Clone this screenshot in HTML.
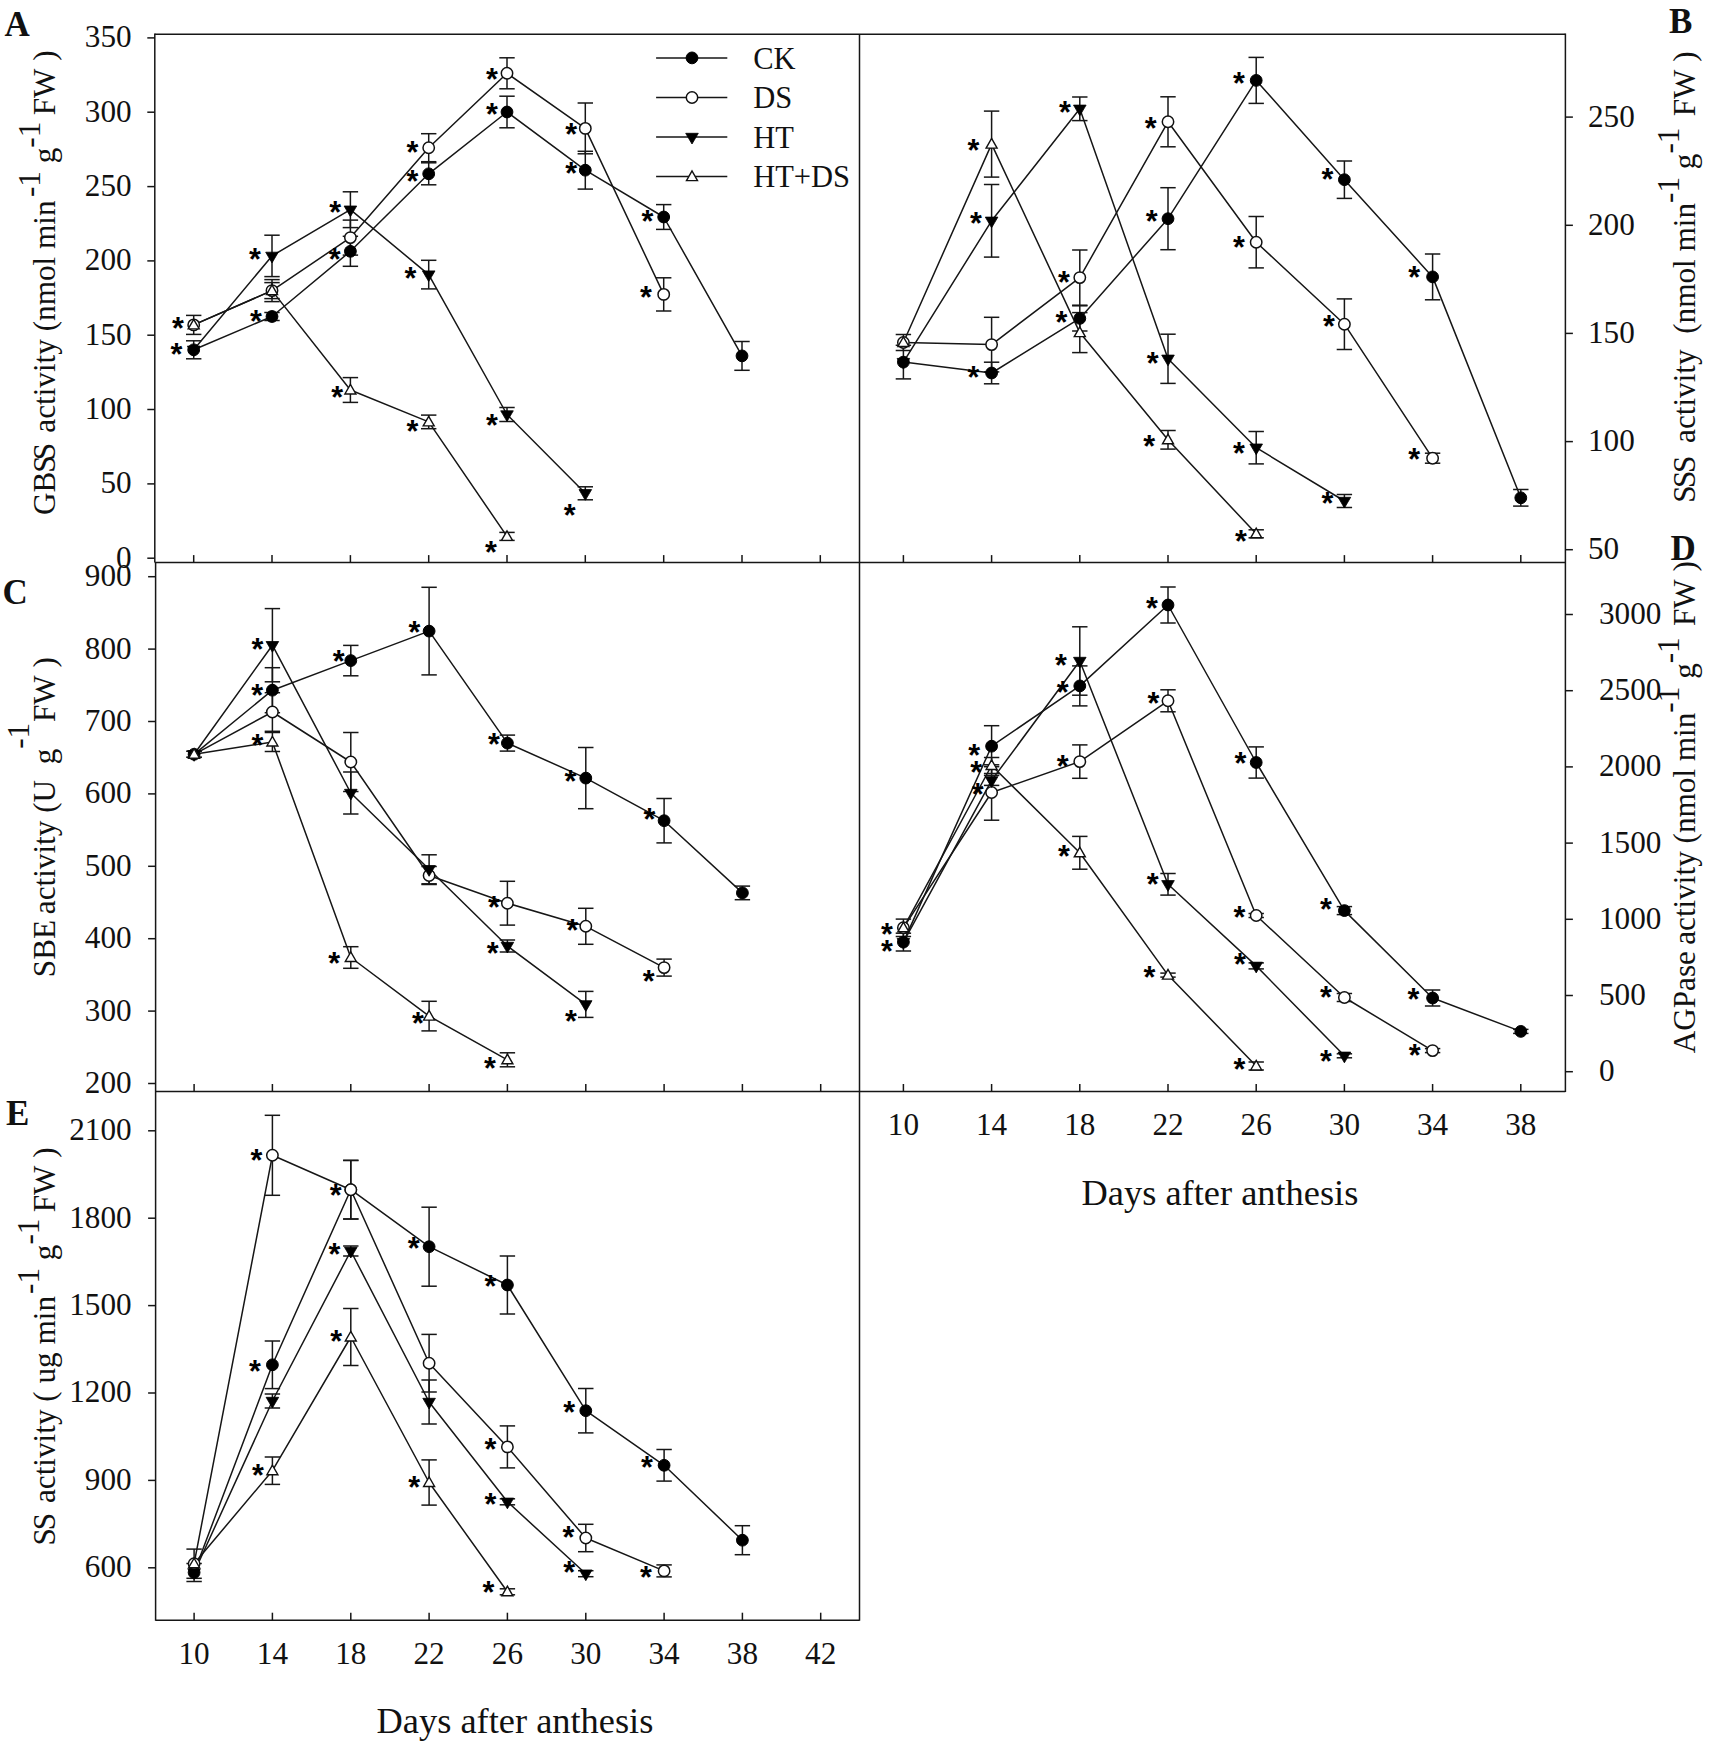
<!DOCTYPE html>
<html lang="en"><head><meta charset="utf-8"><title>Starch synthesis enzyme activities</title>
<style>html,body{margin:0;padding:0;background:#fff}svg{display:block}text{white-space:pre}</style></head>
<body>
<svg width="1713" height="1746" viewBox="0 0 1713 1746">
<rect width="1713" height="1746" fill="#fff"/>
<line x1="154.8" y1="34.2" x2="1565.4" y2="34.2" stroke="#161616" stroke-width="1.5"/>
<line x1="154.8" y1="562.6" x2="1565.4" y2="562.6" stroke="#161616" stroke-width="1.5"/>
<line x1="155.6" y1="1091.5" x2="1565.4" y2="1091.5" stroke="#161616" stroke-width="1.5"/>
<line x1="155.6" y1="1620.2" x2="859.5" y2="1620.2" stroke="#161616" stroke-width="1.5"/>
<line x1="154.8" y1="33.6" x2="154.8" y2="562.6" stroke="#161616" stroke-width="1.5"/>
<line x1="155.6" y1="562.6" x2="155.6" y2="1620.8" stroke="#161616" stroke-width="1.5"/>
<line x1="859.5" y1="34.2" x2="859.5" y2="1620.8" stroke="#161616" stroke-width="1.5"/>
<line x1="1565.4" y1="33.6" x2="1565.4" y2="1092.1" stroke="#161616" stroke-width="1.5"/>
<line x1="147.3" y1="558.2" x2="154.8" y2="558.2" stroke="#161616" stroke-width="1.5"/>
<text x="131.6" y="567.6" font-family="'Liberation Serif', 'Times New Roman', serif" font-size="31.2" font-weight="normal" text-anchor="end" fill="#111" >0</text>
<line x1="147.3" y1="483.9" x2="154.8" y2="483.9" stroke="#161616" stroke-width="1.5"/>
<text x="131.6" y="493.3" font-family="'Liberation Serif', 'Times New Roman', serif" font-size="31.2" font-weight="normal" text-anchor="end" fill="#111" >50</text>
<line x1="147.3" y1="409.5" x2="154.8" y2="409.5" stroke="#161616" stroke-width="1.5"/>
<text x="131.6" y="418.9" font-family="'Liberation Serif', 'Times New Roman', serif" font-size="31.2" font-weight="normal" text-anchor="end" fill="#111" >100</text>
<line x1="147.3" y1="335.2" x2="154.8" y2="335.2" stroke="#161616" stroke-width="1.5"/>
<text x="131.6" y="344.6" font-family="'Liberation Serif', 'Times New Roman', serif" font-size="31.2" font-weight="normal" text-anchor="end" fill="#111" >150</text>
<line x1="147.3" y1="260.9" x2="154.8" y2="260.9" stroke="#161616" stroke-width="1.5"/>
<text x="131.6" y="270.3" font-family="'Liberation Serif', 'Times New Roman', serif" font-size="31.2" font-weight="normal" text-anchor="end" fill="#111" >200</text>
<line x1="147.3" y1="186.6" x2="154.8" y2="186.6" stroke="#161616" stroke-width="1.5"/>
<text x="131.6" y="196.0" font-family="'Liberation Serif', 'Times New Roman', serif" font-size="31.2" font-weight="normal" text-anchor="end" fill="#111" >250</text>
<line x1="147.3" y1="112.2" x2="154.8" y2="112.2" stroke="#161616" stroke-width="1.5"/>
<text x="131.6" y="121.6" font-family="'Liberation Serif', 'Times New Roman', serif" font-size="31.2" font-weight="normal" text-anchor="end" fill="#111" >300</text>
<line x1="147.3" y1="37.9" x2="154.8" y2="37.9" stroke="#161616" stroke-width="1.5"/>
<text x="131.6" y="47.3" font-family="'Liberation Serif', 'Times New Roman', serif" font-size="31.2" font-weight="normal" text-anchor="end" fill="#111" >350</text>
<line x1="148.1" y1="1083.5" x2="155.6" y2="1083.5" stroke="#161616" stroke-width="1.5"/>
<text x="131.6" y="1092.9" font-family="'Liberation Serif', 'Times New Roman', serif" font-size="31.2" font-weight="normal" text-anchor="end" fill="#111" >200</text>
<line x1="148.1" y1="1011.1" x2="155.6" y2="1011.1" stroke="#161616" stroke-width="1.5"/>
<text x="131.6" y="1020.5" font-family="'Liberation Serif', 'Times New Roman', serif" font-size="31.2" font-weight="normal" text-anchor="end" fill="#111" >300</text>
<line x1="148.1" y1="938.7" x2="155.6" y2="938.7" stroke="#161616" stroke-width="1.5"/>
<text x="131.6" y="948.1" font-family="'Liberation Serif', 'Times New Roman', serif" font-size="31.2" font-weight="normal" text-anchor="end" fill="#111" >400</text>
<line x1="148.1" y1="866.3" x2="155.6" y2="866.3" stroke="#161616" stroke-width="1.5"/>
<text x="131.6" y="875.7" font-family="'Liberation Serif', 'Times New Roman', serif" font-size="31.2" font-weight="normal" text-anchor="end" fill="#111" >500</text>
<line x1="148.1" y1="793.9" x2="155.6" y2="793.9" stroke="#161616" stroke-width="1.5"/>
<text x="131.6" y="803.3" font-family="'Liberation Serif', 'Times New Roman', serif" font-size="31.2" font-weight="normal" text-anchor="end" fill="#111" >600</text>
<line x1="148.1" y1="721.5" x2="155.6" y2="721.5" stroke="#161616" stroke-width="1.5"/>
<text x="131.6" y="730.9" font-family="'Liberation Serif', 'Times New Roman', serif" font-size="31.2" font-weight="normal" text-anchor="end" fill="#111" >700</text>
<line x1="148.1" y1="649.1" x2="155.6" y2="649.1" stroke="#161616" stroke-width="1.5"/>
<text x="131.6" y="658.5" font-family="'Liberation Serif', 'Times New Roman', serif" font-size="31.2" font-weight="normal" text-anchor="end" fill="#111" >800</text>
<line x1="148.1" y1="576.7" x2="155.6" y2="576.7" stroke="#161616" stroke-width="1.5"/>
<text x="131.6" y="586.1" font-family="'Liberation Serif', 'Times New Roman', serif" font-size="31.2" font-weight="normal" text-anchor="end" fill="#111" >900</text>
<line x1="148.1" y1="1567.8" x2="155.6" y2="1567.8" stroke="#161616" stroke-width="1.5"/>
<text x="131.6" y="1577.2" font-family="'Liberation Serif', 'Times New Roman', serif" font-size="31.2" font-weight="normal" text-anchor="end" fill="#111" >600</text>
<line x1="148.1" y1="1480.4" x2="155.6" y2="1480.4" stroke="#161616" stroke-width="1.5"/>
<text x="131.6" y="1489.8" font-family="'Liberation Serif', 'Times New Roman', serif" font-size="31.2" font-weight="normal" text-anchor="end" fill="#111" >900</text>
<line x1="148.1" y1="1393.0" x2="155.6" y2="1393.0" stroke="#161616" stroke-width="1.5"/>
<text x="131.6" y="1402.4" font-family="'Liberation Serif', 'Times New Roman', serif" font-size="31.2" font-weight="normal" text-anchor="end" fill="#111" >1200</text>
<line x1="148.1" y1="1305.6" x2="155.6" y2="1305.6" stroke="#161616" stroke-width="1.5"/>
<text x="131.6" y="1315.0" font-family="'Liberation Serif', 'Times New Roman', serif" font-size="31.2" font-weight="normal" text-anchor="end" fill="#111" >1500</text>
<line x1="148.1" y1="1218.2" x2="155.6" y2="1218.2" stroke="#161616" stroke-width="1.5"/>
<text x="131.6" y="1227.6" font-family="'Liberation Serif', 'Times New Roman', serif" font-size="31.2" font-weight="normal" text-anchor="end" fill="#111" >1800</text>
<line x1="148.1" y1="1130.8" x2="155.6" y2="1130.8" stroke="#161616" stroke-width="1.5"/>
<text x="131.6" y="1140.2" font-family="'Liberation Serif', 'Times New Roman', serif" font-size="31.2" font-weight="normal" text-anchor="end" fill="#111" >2100</text>
<line x1="1565.4" y1="549.7" x2="1572.9" y2="549.7" stroke="#161616" stroke-width="1.5"/>
<text x="1588.0" y="559.1" font-family="'Liberation Serif', 'Times New Roman', serif" font-size="31.2" font-weight="normal" text-anchor="start" fill="#111" >50</text>
<line x1="1565.4" y1="441.6" x2="1572.9" y2="441.6" stroke="#161616" stroke-width="1.5"/>
<text x="1588.0" y="451.0" font-family="'Liberation Serif', 'Times New Roman', serif" font-size="31.2" font-weight="normal" text-anchor="start" fill="#111" >100</text>
<line x1="1565.4" y1="333.4" x2="1572.9" y2="333.4" stroke="#161616" stroke-width="1.5"/>
<text x="1588.0" y="342.8" font-family="'Liberation Serif', 'Times New Roman', serif" font-size="31.2" font-weight="normal" text-anchor="start" fill="#111" >150</text>
<line x1="1565.4" y1="225.3" x2="1572.9" y2="225.3" stroke="#161616" stroke-width="1.5"/>
<text x="1588.0" y="234.7" font-family="'Liberation Serif', 'Times New Roman', serif" font-size="31.2" font-weight="normal" text-anchor="start" fill="#111" >200</text>
<line x1="1565.4" y1="117.1" x2="1572.9" y2="117.1" stroke="#161616" stroke-width="1.5"/>
<text x="1588.0" y="126.5" font-family="'Liberation Serif', 'Times New Roman', serif" font-size="31.2" font-weight="normal" text-anchor="start" fill="#111" >250</text>
<line x1="1565.4" y1="1071.7" x2="1572.9" y2="1071.7" stroke="#161616" stroke-width="1.5"/>
<text x="1599.0" y="1081.1" font-family="'Liberation Serif', 'Times New Roman', serif" font-size="31.2" font-weight="normal" text-anchor="start" fill="#111" >0</text>
<line x1="1565.4" y1="995.5" x2="1572.9" y2="995.5" stroke="#161616" stroke-width="1.5"/>
<text x="1599.0" y="1004.9" font-family="'Liberation Serif', 'Times New Roman', serif" font-size="31.2" font-weight="normal" text-anchor="start" fill="#111" >500</text>
<line x1="1565.4" y1="919.3" x2="1572.9" y2="919.3" stroke="#161616" stroke-width="1.5"/>
<text x="1599.0" y="928.7" font-family="'Liberation Serif', 'Times New Roman', serif" font-size="31.2" font-weight="normal" text-anchor="start" fill="#111" >1000</text>
<line x1="1565.4" y1="843.1" x2="1572.9" y2="843.1" stroke="#161616" stroke-width="1.5"/>
<text x="1599.0" y="852.5" font-family="'Liberation Serif', 'Times New Roman', serif" font-size="31.2" font-weight="normal" text-anchor="start" fill="#111" >1500</text>
<line x1="1565.4" y1="766.9" x2="1572.9" y2="766.9" stroke="#161616" stroke-width="1.5"/>
<text x="1599.0" y="776.3" font-family="'Liberation Serif', 'Times New Roman', serif" font-size="31.2" font-weight="normal" text-anchor="start" fill="#111" >2000</text>
<line x1="1565.4" y1="690.7" x2="1572.9" y2="690.7" stroke="#161616" stroke-width="1.5"/>
<text x="1599.0" y="700.1" font-family="'Liberation Serif', 'Times New Roman', serif" font-size="31.2" font-weight="normal" text-anchor="start" fill="#111" >2500</text>
<line x1="1565.4" y1="614.5" x2="1572.9" y2="614.5" stroke="#161616" stroke-width="1.5"/>
<text x="1599.0" y="623.9" font-family="'Liberation Serif', 'Times New Roman', serif" font-size="31.2" font-weight="normal" text-anchor="start" fill="#111" >3000</text>
<line x1="193.7" y1="555.1" x2="193.7" y2="562.6" stroke="#161616" stroke-width="1.5"/>
<line x1="272.0" y1="555.1" x2="272.0" y2="562.6" stroke="#161616" stroke-width="1.5"/>
<line x1="350.4" y1="555.1" x2="350.4" y2="562.6" stroke="#161616" stroke-width="1.5"/>
<line x1="428.7" y1="555.1" x2="428.7" y2="562.6" stroke="#161616" stroke-width="1.5"/>
<line x1="507.0" y1="555.1" x2="507.0" y2="562.6" stroke="#161616" stroke-width="1.5"/>
<line x1="585.3" y1="555.1" x2="585.3" y2="562.6" stroke="#161616" stroke-width="1.5"/>
<line x1="663.7" y1="555.1" x2="663.7" y2="562.6" stroke="#161616" stroke-width="1.5"/>
<line x1="742.0" y1="555.1" x2="742.0" y2="562.6" stroke="#161616" stroke-width="1.5"/>
<line x1="820.3" y1="555.1" x2="820.3" y2="562.6" stroke="#161616" stroke-width="1.5"/>
<line x1="194.1" y1="1084.0" x2="194.1" y2="1091.5" stroke="#161616" stroke-width="1.5"/>
<line x1="272.4" y1="1084.0" x2="272.4" y2="1091.5" stroke="#161616" stroke-width="1.5"/>
<line x1="350.8" y1="1084.0" x2="350.8" y2="1091.5" stroke="#161616" stroke-width="1.5"/>
<line x1="429.1" y1="1084.0" x2="429.1" y2="1091.5" stroke="#161616" stroke-width="1.5"/>
<line x1="507.4" y1="1084.0" x2="507.4" y2="1091.5" stroke="#161616" stroke-width="1.5"/>
<line x1="585.8" y1="1084.0" x2="585.8" y2="1091.5" stroke="#161616" stroke-width="1.5"/>
<line x1="664.1" y1="1084.0" x2="664.1" y2="1091.5" stroke="#161616" stroke-width="1.5"/>
<line x1="742.4" y1="1084.0" x2="742.4" y2="1091.5" stroke="#161616" stroke-width="1.5"/>
<line x1="820.7" y1="1084.0" x2="820.7" y2="1091.5" stroke="#161616" stroke-width="1.5"/>
<line x1="194.1" y1="1612.7" x2="194.1" y2="1620.2" stroke="#161616" stroke-width="1.5"/>
<text x="194.1" y="1664.3" font-family="'Liberation Serif', 'Times New Roman', serif" font-size="31.2" font-weight="normal" text-anchor="middle" fill="#111" >10</text>
<line x1="272.4" y1="1612.7" x2="272.4" y2="1620.2" stroke="#161616" stroke-width="1.5"/>
<text x="272.4" y="1664.3" font-family="'Liberation Serif', 'Times New Roman', serif" font-size="31.2" font-weight="normal" text-anchor="middle" fill="#111" >14</text>
<line x1="350.8" y1="1612.7" x2="350.8" y2="1620.2" stroke="#161616" stroke-width="1.5"/>
<text x="350.8" y="1664.3" font-family="'Liberation Serif', 'Times New Roman', serif" font-size="31.2" font-weight="normal" text-anchor="middle" fill="#111" >18</text>
<line x1="429.1" y1="1612.7" x2="429.1" y2="1620.2" stroke="#161616" stroke-width="1.5"/>
<text x="429.1" y="1664.3" font-family="'Liberation Serif', 'Times New Roman', serif" font-size="31.2" font-weight="normal" text-anchor="middle" fill="#111" >22</text>
<line x1="507.4" y1="1612.7" x2="507.4" y2="1620.2" stroke="#161616" stroke-width="1.5"/>
<text x="507.4" y="1664.3" font-family="'Liberation Serif', 'Times New Roman', serif" font-size="31.2" font-weight="normal" text-anchor="middle" fill="#111" >26</text>
<line x1="585.8" y1="1612.7" x2="585.8" y2="1620.2" stroke="#161616" stroke-width="1.5"/>
<text x="585.8" y="1664.3" font-family="'Liberation Serif', 'Times New Roman', serif" font-size="31.2" font-weight="normal" text-anchor="middle" fill="#111" >30</text>
<line x1="664.1" y1="1612.7" x2="664.1" y2="1620.2" stroke="#161616" stroke-width="1.5"/>
<text x="664.1" y="1664.3" font-family="'Liberation Serif', 'Times New Roman', serif" font-size="31.2" font-weight="normal" text-anchor="middle" fill="#111" >34</text>
<line x1="742.4" y1="1612.7" x2="742.4" y2="1620.2" stroke="#161616" stroke-width="1.5"/>
<text x="742.4" y="1664.3" font-family="'Liberation Serif', 'Times New Roman', serif" font-size="31.2" font-weight="normal" text-anchor="middle" fill="#111" >38</text>
<line x1="820.7" y1="1612.7" x2="820.7" y2="1620.2" stroke="#161616" stroke-width="1.5"/>
<text x="820.7" y="1664.3" font-family="'Liberation Serif', 'Times New Roman', serif" font-size="31.2" font-weight="normal" text-anchor="middle" fill="#111" >42</text>
<line x1="903.4" y1="555.1" x2="903.4" y2="562.6" stroke="#161616" stroke-width="1.5"/>
<line x1="991.6" y1="555.1" x2="991.6" y2="562.6" stroke="#161616" stroke-width="1.5"/>
<line x1="1079.8" y1="555.1" x2="1079.8" y2="562.6" stroke="#161616" stroke-width="1.5"/>
<line x1="1168.0" y1="555.1" x2="1168.0" y2="562.6" stroke="#161616" stroke-width="1.5"/>
<line x1="1256.2" y1="555.1" x2="1256.2" y2="562.6" stroke="#161616" stroke-width="1.5"/>
<line x1="1344.4" y1="555.1" x2="1344.4" y2="562.6" stroke="#161616" stroke-width="1.5"/>
<line x1="1432.6" y1="555.1" x2="1432.6" y2="562.6" stroke="#161616" stroke-width="1.5"/>
<line x1="1520.8" y1="555.1" x2="1520.8" y2="562.6" stroke="#161616" stroke-width="1.5"/>
<line x1="903.4" y1="1084.0" x2="903.4" y2="1091.5" stroke="#161616" stroke-width="1.5"/>
<text x="903.4" y="1134.6" font-family="'Liberation Serif', 'Times New Roman', serif" font-size="31.2" font-weight="normal" text-anchor="middle" fill="#111" >10</text>
<line x1="991.6" y1="1084.0" x2="991.6" y2="1091.5" stroke="#161616" stroke-width="1.5"/>
<text x="991.6" y="1134.6" font-family="'Liberation Serif', 'Times New Roman', serif" font-size="31.2" font-weight="normal" text-anchor="middle" fill="#111" >14</text>
<line x1="1079.8" y1="1084.0" x2="1079.8" y2="1091.5" stroke="#161616" stroke-width="1.5"/>
<text x="1079.8" y="1134.6" font-family="'Liberation Serif', 'Times New Roman', serif" font-size="31.2" font-weight="normal" text-anchor="middle" fill="#111" >18</text>
<line x1="1168.0" y1="1084.0" x2="1168.0" y2="1091.5" stroke="#161616" stroke-width="1.5"/>
<text x="1168.0" y="1134.6" font-family="'Liberation Serif', 'Times New Roman', serif" font-size="31.2" font-weight="normal" text-anchor="middle" fill="#111" >22</text>
<line x1="1256.2" y1="1084.0" x2="1256.2" y2="1091.5" stroke="#161616" stroke-width="1.5"/>
<text x="1256.2" y="1134.6" font-family="'Liberation Serif', 'Times New Roman', serif" font-size="31.2" font-weight="normal" text-anchor="middle" fill="#111" >26</text>
<line x1="1344.4" y1="1084.0" x2="1344.4" y2="1091.5" stroke="#161616" stroke-width="1.5"/>
<text x="1344.4" y="1134.6" font-family="'Liberation Serif', 'Times New Roman', serif" font-size="31.2" font-weight="normal" text-anchor="middle" fill="#111" >30</text>
<line x1="1432.6" y1="1084.0" x2="1432.6" y2="1091.5" stroke="#161616" stroke-width="1.5"/>
<text x="1432.6" y="1134.6" font-family="'Liberation Serif', 'Times New Roman', serif" font-size="31.2" font-weight="normal" text-anchor="middle" fill="#111" >34</text>
<line x1="1520.8" y1="1084.0" x2="1520.8" y2="1091.5" stroke="#161616" stroke-width="1.5"/>
<text x="1520.8" y="1134.6" font-family="'Liberation Serif', 'Times New Roman', serif" font-size="31.2" font-weight="normal" text-anchor="middle" fill="#111" >38</text>
<text x="4.5" y="35.5" font-family="'Liberation Serif', 'Times New Roman', serif" font-size="35" font-weight="bold" text-anchor="start" fill="#111" >A</text>
<text x="1669.0" y="33.3" font-family="'Liberation Serif', 'Times New Roman', serif" font-size="35" font-weight="bold" text-anchor="start" fill="#111" >B</text>
<text x="2.5" y="604.3" font-family="'Liberation Serif', 'Times New Roman', serif" font-size="35" font-weight="bold" text-anchor="start" fill="#111" >C</text>
<text x="1670.5" y="559.5" font-family="'Liberation Serif', 'Times New Roman', serif" font-size="35" font-weight="bold" text-anchor="start" fill="#111" >D</text>
<text x="6.0" y="1125.0" font-family="'Liberation Serif', 'Times New Roman', serif" font-size="35" font-weight="bold" text-anchor="start" fill="#111" >E</text>
<text x="376.5" y="1733.0" font-family="'Liberation Serif', 'Times New Roman', serif" font-size="36.4" font-weight="normal" text-anchor="start" fill="#111" >Days after anthesis</text>
<text x="1081.5" y="1204.5" font-family="'Liberation Serif', 'Times New Roman', serif" font-size="36.4" font-weight="normal" text-anchor="start" fill="#111" >Days after anthesis</text>
<text transform="translate(54.6 515.0) rotate(-90)" font-family="'Liberation Serif', 'Times New Roman', serif" font-size="31.2" fill="#111" xml:space="preserve"><tspan dx="0" dy="0.0">GB</tspan><tspan dx="-1" dy="0.0">S</tspan><tspan dx="-5" dy="0.0">S</tspan><tspan dx="2.5" dy="0.0">&#160;activity&#160;(nmol&#160;min</tspan><tspan dx="3.5" dy="-15.0">-1</tspan><tspan dx="0" dy="15.0">&#160;g</tspan><tspan dx="0" dy="-15.0">-1</tspan><tspan dx="-1.5" dy="15.0">&#160;FW&#160;)</tspan></text>
<text transform="translate(54.8 977.2) rotate(-90)" font-family="'Liberation Serif', 'Times New Roman', serif" font-size="31.2" fill="#111" xml:space="preserve"><tspan dx="0" dy="0.0">SBE</tspan><tspan dx="-2" dy="0.0">&#160;activity&#160;(U&#160;&#160;g</tspan><tspan dx="0" dy="-25.5">-1</tspan><tspan dx="-7" dy="25.5">&#160;FW&#160;)</tspan></text>
<text transform="translate(55.0 1545.5) rotate(-90)" font-family="'Liberation Serif', 'Times New Roman', serif" font-size="31.2" fill="#111" xml:space="preserve"><tspan dx="0" dy="0.0">S</tspan><tspan dx="-2" dy="0.0">S</tspan><tspan dx="2" dy="0.0">&#160;activity&#160;(&#160;ug&#160;min</tspan><tspan dx="2" dy="-16.0">-1</tspan><tspan dx="0" dy="16.0">&#160;g</tspan><tspan dx="0" dy="-16.0">-1</tspan><tspan dx="-1.5" dy="16.0">&#160;FW&#160;)</tspan></text>
<text transform="translate(1694.6 502.8) rotate(-90)" font-family="'Liberation Serif', 'Times New Roman', serif" font-size="31.2" fill="#111" xml:space="preserve"><tspan dx="0" dy="0.0">S</tspan><tspan dx="-2.5" dy="0.0">S</tspan><tspan dx="-2.5" dy="0.0">S</tspan><tspan dx="5" dy="0.0">&#160;activity&#160;&#160;(nmol&#160;min</tspan><tspan dx="0" dy="-16.0">-1</tspan><tspan dx="0" dy="16.0">&#160;g</tspan><tspan dx="0" dy="-16.0">-1</tspan><tspan dx="3.5" dy="16.0">&#160;FW&#160;)</tspan></text>
<text transform="translate(1695.4 1053.3) rotate(-90)" font-family="'Liberation Serif', 'Times New Roman', serif" font-size="31.2" fill="#111" xml:space="preserve"><tspan dx="0" dy="0.0">AGPase</tspan><tspan dx="-1.5" dy="0.0">&#160;activity&#160;(nmol&#160;min</tspan><tspan dx="0" dy="-16.0">-1</tspan><tspan dx="0" dy="16.0">&#160;g</tspan><tspan dx="0" dy="-16.0">-1</tspan><tspan dx="3.5" dy="16.0">&#160;FW&#160;)</tspan></text>
<line x1="656.1" y1="57.9" x2="727.3" y2="57.9" stroke="#161616" stroke-width="1.5"/>
<circle cx="692.0" cy="57.9" r="5.9" fill="#000" stroke="#000" stroke-width="1"/>
<text x="753.2" y="68.7" font-family="'Liberation Serif', 'Times New Roman', serif" font-size="30.5" font-weight="normal" text-anchor="start" fill="#111" >CK</text>
<line x1="656.1" y1="97.5" x2="727.3" y2="97.5" stroke="#161616" stroke-width="1.5"/>
<circle cx="692.0" cy="97.5" r="5.7" fill="#fff" stroke="#111" stroke-width="1.5"/>
<text x="753.2" y="108.3" font-family="'Liberation Serif', 'Times New Roman', serif" font-size="30.5" font-weight="normal" text-anchor="start" fill="#111" >DS</text>
<line x1="656.1" y1="137.0" x2="727.3" y2="137.0" stroke="#161616" stroke-width="1.5"/>
<path d="M685.7 133.3L698.3 133.3L692.0 144.0Z" fill="#000" stroke="#000" stroke-width="0.8"/>
<text x="753.2" y="147.8" font-family="'Liberation Serif', 'Times New Roman', serif" font-size="30.5" font-weight="normal" text-anchor="start" fill="#111" >HT</text>
<line x1="656.1" y1="176.6" x2="727.3" y2="176.6" stroke="#161616" stroke-width="1.5"/>
<path d="M686.5 180.6L697.5 180.6L692.0 171.0Z" fill="#fff" stroke="#111" stroke-width="1.4"/>
<text x="753.2" y="187.4" font-family="'Liberation Serif', 'Times New Roman', serif" font-size="30.5" font-weight="normal" text-anchor="start" fill="#111" >HT+DS</text>
<path d="M193.7 349.8 L272.0 316.5 L350.4 251.3 L428.7 173.8 L507.0 112.0 L585.3 170.2 L663.7 217.0 L742.0 355.9" fill="none" stroke="#161616" stroke-width="1.5" stroke-linejoin="round"/>
<path d="M193.7 324.9 L272.0 290.6 L350.4 237.6 L428.7 147.7 L507.0 73.3 L585.3 128.4 L663.7 294.4" fill="none" stroke="#161616" stroke-width="1.5" stroke-linejoin="round"/>
<path d="M193.7 349.8 L272.0 255.9 L350.4 209.7 L428.7 274.6 L507.0 414.5 L585.3 493.3" fill="none" stroke="#161616" stroke-width="1.5" stroke-linejoin="round"/>
<path d="M193.7 324.9 L272.0 290.6 L350.4 390.0 L428.7 421.9 L507.0 536.4" fill="none" stroke="#161616" stroke-width="1.5" stroke-linejoin="round"/>
<path d="M903.4 362.1 L991.6 373.0 L1079.8 318.4 L1168.0 218.7 L1256.2 80.4 L1344.4 179.7 L1432.6 276.9 L1520.8 497.8" fill="none" stroke="#161616" stroke-width="1.5" stroke-linejoin="round"/>
<path d="M903.4 342.5 L991.6 344.6 L1079.8 277.6 L1168.0 121.8 L1256.2 242.2 L1344.4 324.2 L1432.6 458.2" fill="none" stroke="#161616" stroke-width="1.5" stroke-linejoin="round"/>
<path d="M903.4 362.1 L991.6 220.8 L1079.8 108.8 L1168.0 358.8 L1256.2 447.7 L1344.4 501.0" fill="none" stroke="#161616" stroke-width="1.5" stroke-linejoin="round"/>
<path d="M903.4 342.5 L991.6 144.1 L1079.8 332.6 L1168.0 439.8 L1256.2 533.8" fill="none" stroke="#161616" stroke-width="1.5" stroke-linejoin="round"/>
<path d="M194.1 754.3 L272.4 690.2 L350.8 660.6 L429.1 631.1 L507.4 743.1 L585.8 778.1 L664.1 820.7 L742.4 892.9" fill="none" stroke="#161616" stroke-width="1.5" stroke-linejoin="round"/>
<path d="M194.1 754.3 L272.4 712.0 L350.8 762.0 L429.1 875.5 L507.4 903.2 L585.8 926.3 L664.1 967.6" fill="none" stroke="#161616" stroke-width="1.5" stroke-linejoin="round"/>
<path d="M194.1 754.3 L272.4 645.2 L350.8 793.0 L429.1 869.3 L507.4 946.0 L585.8 1004.4" fill="none" stroke="#161616" stroke-width="1.5" stroke-linejoin="round"/>
<path d="M194.1 754.3 L272.4 742.0 L350.8 957.5 L429.1 1016.1 L507.4 1059.8" fill="none" stroke="#161616" stroke-width="1.5" stroke-linejoin="round"/>
<path d="M903.4 942.1 L991.6 746.2 L1079.8 685.9 L1168.0 605.0 L1256.2 762.5 L1344.4 910.6 L1432.6 998.0 L1520.8 1031.4" fill="none" stroke="#161616" stroke-width="1.5" stroke-linejoin="round"/>
<path d="M903.4 927.8 L991.6 792.5 L1079.8 761.6 L1168.0 700.8 L1256.2 915.5 L1344.4 997.5 L1432.6 1050.6" fill="none" stroke="#161616" stroke-width="1.5" stroke-linejoin="round"/>
<path d="M903.4 942.1 L991.6 780.4 L1079.8 661.0 L1168.0 884.3 L1256.2 965.9 L1344.4 1055.8" fill="none" stroke="#161616" stroke-width="1.5" stroke-linejoin="round"/>
<path d="M903.4 927.8 L991.6 765.5 L1079.8 852.8 L1168.0 975.1 L1256.2 1066.0" fill="none" stroke="#161616" stroke-width="1.5" stroke-linejoin="round"/>
<path d="M194.1 1572.5 L272.4 1364.8 L350.8 1189.7 L429.1 1246.7 L507.4 1285.0 L585.8 1410.7 L664.1 1465.3 L742.4 1540.2" fill="none" stroke="#161616" stroke-width="1.5" stroke-linejoin="round"/>
<path d="M194.1 1563.7 L272.4 1155.3 L350.8 1189.7 L429.1 1363.2 L507.4 1446.9 L585.8 1538.0 L664.1 1570.9" fill="none" stroke="#161616" stroke-width="1.5" stroke-linejoin="round"/>
<path d="M194.1 1572.5 L272.4 1401.0 L350.8 1251.0 L429.1 1402.0 L507.4 1501.8 L585.8 1573.7" fill="none" stroke="#161616" stroke-width="1.5" stroke-linejoin="round"/>
<path d="M194.1 1563.7 L272.4 1470.7 L350.8 1337.0 L429.1 1482.5 L507.4 1591.8" fill="none" stroke="#161616" stroke-width="1.5" stroke-linejoin="round"/>
<line x1="193.7" y1="340.8" x2="193.7" y2="358.8" stroke="#161616" stroke-width="1.5"/>
<line x1="186.0" y1="340.8" x2="201.4" y2="340.8" stroke="#161616" stroke-width="1.5"/>
<line x1="186.0" y1="358.8" x2="201.4" y2="358.8" stroke="#161616" stroke-width="1.5"/>
<line x1="272.0" y1="312.5" x2="272.0" y2="320.5" stroke="#161616" stroke-width="1.5"/>
<line x1="264.3" y1="312.5" x2="279.7" y2="312.5" stroke="#161616" stroke-width="1.5"/>
<line x1="264.3" y1="320.5" x2="279.7" y2="320.5" stroke="#161616" stroke-width="1.5"/>
<line x1="350.4" y1="236.3" x2="350.4" y2="266.3" stroke="#161616" stroke-width="1.5"/>
<line x1="342.7" y1="236.3" x2="358.1" y2="236.3" stroke="#161616" stroke-width="1.5"/>
<line x1="342.7" y1="266.3" x2="358.1" y2="266.3" stroke="#161616" stroke-width="1.5"/>
<line x1="428.7" y1="162.8" x2="428.7" y2="184.8" stroke="#161616" stroke-width="1.5"/>
<line x1="421.0" y1="162.8" x2="436.4" y2="162.8" stroke="#161616" stroke-width="1.5"/>
<line x1="421.0" y1="184.8" x2="436.4" y2="184.8" stroke="#161616" stroke-width="1.5"/>
<line x1="507.0" y1="96.2" x2="507.0" y2="127.8" stroke="#161616" stroke-width="1.5"/>
<line x1="499.3" y1="96.2" x2="514.7" y2="96.2" stroke="#161616" stroke-width="1.5"/>
<line x1="499.3" y1="127.8" x2="514.7" y2="127.8" stroke="#161616" stroke-width="1.5"/>
<line x1="585.3" y1="151.3" x2="585.3" y2="189.1" stroke="#161616" stroke-width="1.5"/>
<line x1="577.6" y1="151.3" x2="593.0" y2="151.3" stroke="#161616" stroke-width="1.5"/>
<line x1="577.6" y1="189.1" x2="593.0" y2="189.1" stroke="#161616" stroke-width="1.5"/>
<line x1="663.7" y1="204.6" x2="663.7" y2="229.4" stroke="#161616" stroke-width="1.5"/>
<line x1="656.0" y1="204.6" x2="671.4" y2="204.6" stroke="#161616" stroke-width="1.5"/>
<line x1="656.0" y1="229.4" x2="671.4" y2="229.4" stroke="#161616" stroke-width="1.5"/>
<line x1="742.0" y1="341.5" x2="742.0" y2="370.3" stroke="#161616" stroke-width="1.5"/>
<line x1="734.3" y1="341.5" x2="749.7" y2="341.5" stroke="#161616" stroke-width="1.5"/>
<line x1="734.3" y1="370.3" x2="749.7" y2="370.3" stroke="#161616" stroke-width="1.5"/>
<line x1="193.7" y1="315.4" x2="193.7" y2="334.4" stroke="#161616" stroke-width="1.5"/>
<line x1="186.0" y1="315.4" x2="201.4" y2="315.4" stroke="#161616" stroke-width="1.5"/>
<line x1="186.0" y1="334.4" x2="201.4" y2="334.4" stroke="#161616" stroke-width="1.5"/>
<line x1="272.0" y1="279.6" x2="272.0" y2="301.6" stroke="#161616" stroke-width="1.5"/>
<line x1="264.3" y1="279.6" x2="279.7" y2="279.6" stroke="#161616" stroke-width="1.5"/>
<line x1="264.3" y1="301.6" x2="279.7" y2="301.6" stroke="#161616" stroke-width="1.5"/>
<line x1="350.4" y1="220.1" x2="350.4" y2="255.1" stroke="#161616" stroke-width="1.5"/>
<line x1="342.7" y1="220.1" x2="358.1" y2="220.1" stroke="#161616" stroke-width="1.5"/>
<line x1="342.7" y1="255.1" x2="358.1" y2="255.1" stroke="#161616" stroke-width="1.5"/>
<line x1="428.7" y1="133.7" x2="428.7" y2="161.7" stroke="#161616" stroke-width="1.5"/>
<line x1="421.0" y1="133.7" x2="436.4" y2="133.7" stroke="#161616" stroke-width="1.5"/>
<line x1="421.0" y1="161.7" x2="436.4" y2="161.7" stroke="#161616" stroke-width="1.5"/>
<line x1="507.0" y1="57.8" x2="507.0" y2="88.8" stroke="#161616" stroke-width="1.5"/>
<line x1="499.3" y1="57.8" x2="514.7" y2="57.8" stroke="#161616" stroke-width="1.5"/>
<line x1="499.3" y1="88.8" x2="514.7" y2="88.8" stroke="#161616" stroke-width="1.5"/>
<line x1="585.3" y1="103.0" x2="585.3" y2="153.8" stroke="#161616" stroke-width="1.5"/>
<line x1="577.6" y1="103.0" x2="593.0" y2="103.0" stroke="#161616" stroke-width="1.5"/>
<line x1="577.6" y1="153.8" x2="593.0" y2="153.8" stroke="#161616" stroke-width="1.5"/>
<line x1="663.7" y1="277.8" x2="663.7" y2="311.0" stroke="#161616" stroke-width="1.5"/>
<line x1="656.0" y1="277.8" x2="671.4" y2="277.8" stroke="#161616" stroke-width="1.5"/>
<line x1="656.0" y1="311.0" x2="671.4" y2="311.0" stroke="#161616" stroke-width="1.5"/>
<line x1="272.0" y1="235.2" x2="272.0" y2="276.6" stroke="#161616" stroke-width="1.5"/>
<line x1="264.3" y1="235.2" x2="279.7" y2="235.2" stroke="#161616" stroke-width="1.5"/>
<line x1="264.3" y1="276.6" x2="279.7" y2="276.6" stroke="#161616" stroke-width="1.5"/>
<line x1="350.4" y1="191.8" x2="350.4" y2="227.6" stroke="#161616" stroke-width="1.5"/>
<line x1="342.7" y1="191.8" x2="358.1" y2="191.8" stroke="#161616" stroke-width="1.5"/>
<line x1="342.7" y1="227.6" x2="358.1" y2="227.6" stroke="#161616" stroke-width="1.5"/>
<line x1="428.7" y1="260.3" x2="428.7" y2="288.9" stroke="#161616" stroke-width="1.5"/>
<line x1="421.0" y1="260.3" x2="436.4" y2="260.3" stroke="#161616" stroke-width="1.5"/>
<line x1="421.0" y1="288.9" x2="436.4" y2="288.9" stroke="#161616" stroke-width="1.5"/>
<line x1="507.0" y1="407.5" x2="507.0" y2="421.5" stroke="#161616" stroke-width="1.5"/>
<line x1="499.3" y1="407.5" x2="514.7" y2="407.5" stroke="#161616" stroke-width="1.5"/>
<line x1="499.3" y1="421.5" x2="514.7" y2="421.5" stroke="#161616" stroke-width="1.5"/>
<line x1="585.3" y1="486.8" x2="585.3" y2="499.8" stroke="#161616" stroke-width="1.5"/>
<line x1="577.6" y1="486.8" x2="593.0" y2="486.8" stroke="#161616" stroke-width="1.5"/>
<line x1="577.6" y1="499.8" x2="593.0" y2="499.8" stroke="#161616" stroke-width="1.5"/>
<line x1="272.0" y1="282.6" x2="272.0" y2="298.6" stroke="#161616" stroke-width="1.5"/>
<line x1="264.3" y1="282.6" x2="279.7" y2="282.6" stroke="#161616" stroke-width="1.5"/>
<line x1="264.3" y1="298.6" x2="279.7" y2="298.6" stroke="#161616" stroke-width="1.5"/>
<line x1="350.4" y1="377.6" x2="350.4" y2="402.4" stroke="#161616" stroke-width="1.5"/>
<line x1="342.7" y1="377.6" x2="358.1" y2="377.6" stroke="#161616" stroke-width="1.5"/>
<line x1="342.7" y1="402.4" x2="358.1" y2="402.4" stroke="#161616" stroke-width="1.5"/>
<line x1="428.7" y1="415.1" x2="428.7" y2="428.7" stroke="#161616" stroke-width="1.5"/>
<line x1="421.0" y1="415.1" x2="436.4" y2="415.1" stroke="#161616" stroke-width="1.5"/>
<line x1="421.0" y1="428.7" x2="436.4" y2="428.7" stroke="#161616" stroke-width="1.5"/>
<line x1="507.0" y1="532.4" x2="507.0" y2="540.4" stroke="#161616" stroke-width="1.5"/>
<line x1="499.3" y1="532.4" x2="514.7" y2="532.4" stroke="#161616" stroke-width="1.5"/>
<line x1="499.3" y1="540.4" x2="514.7" y2="540.4" stroke="#161616" stroke-width="1.5"/>
<line x1="903.4" y1="345.3" x2="903.4" y2="378.9" stroke="#161616" stroke-width="1.5"/>
<line x1="895.7" y1="345.3" x2="911.1" y2="345.3" stroke="#161616" stroke-width="1.5"/>
<line x1="895.7" y1="378.9" x2="911.1" y2="378.9" stroke="#161616" stroke-width="1.5"/>
<line x1="991.6" y1="362.2" x2="991.6" y2="383.8" stroke="#161616" stroke-width="1.5"/>
<line x1="983.9" y1="362.2" x2="999.3" y2="362.2" stroke="#161616" stroke-width="1.5"/>
<line x1="983.9" y1="383.8" x2="999.3" y2="383.8" stroke="#161616" stroke-width="1.5"/>
<line x1="1079.8" y1="305.8" x2="1079.8" y2="331.0" stroke="#161616" stroke-width="1.5"/>
<line x1="1072.1" y1="305.8" x2="1087.5" y2="305.8" stroke="#161616" stroke-width="1.5"/>
<line x1="1072.1" y1="331.0" x2="1087.5" y2="331.0" stroke="#161616" stroke-width="1.5"/>
<line x1="1168.0" y1="187.7" x2="1168.0" y2="249.7" stroke="#161616" stroke-width="1.5"/>
<line x1="1160.3" y1="187.7" x2="1175.7" y2="187.7" stroke="#161616" stroke-width="1.5"/>
<line x1="1160.3" y1="249.7" x2="1175.7" y2="249.7" stroke="#161616" stroke-width="1.5"/>
<line x1="1256.2" y1="57.4" x2="1256.2" y2="103.4" stroke="#161616" stroke-width="1.5"/>
<line x1="1248.5" y1="57.4" x2="1263.9" y2="57.4" stroke="#161616" stroke-width="1.5"/>
<line x1="1248.5" y1="103.4" x2="1263.9" y2="103.4" stroke="#161616" stroke-width="1.5"/>
<line x1="1344.4" y1="161.0" x2="1344.4" y2="198.4" stroke="#161616" stroke-width="1.5"/>
<line x1="1336.7" y1="161.0" x2="1352.1" y2="161.0" stroke="#161616" stroke-width="1.5"/>
<line x1="1336.7" y1="198.4" x2="1352.1" y2="198.4" stroke="#161616" stroke-width="1.5"/>
<line x1="1432.6" y1="254.0" x2="1432.6" y2="299.8" stroke="#161616" stroke-width="1.5"/>
<line x1="1424.9" y1="254.0" x2="1440.3" y2="254.0" stroke="#161616" stroke-width="1.5"/>
<line x1="1424.9" y1="299.8" x2="1440.3" y2="299.8" stroke="#161616" stroke-width="1.5"/>
<line x1="1520.8" y1="489.5" x2="1520.8" y2="506.1" stroke="#161616" stroke-width="1.5"/>
<line x1="1513.1" y1="489.5" x2="1528.5" y2="489.5" stroke="#161616" stroke-width="1.5"/>
<line x1="1513.1" y1="506.1" x2="1528.5" y2="506.1" stroke="#161616" stroke-width="1.5"/>
<line x1="903.4" y1="334.5" x2="903.4" y2="350.5" stroke="#161616" stroke-width="1.5"/>
<line x1="895.7" y1="334.5" x2="911.1" y2="334.5" stroke="#161616" stroke-width="1.5"/>
<line x1="895.7" y1="350.5" x2="911.1" y2="350.5" stroke="#161616" stroke-width="1.5"/>
<line x1="991.6" y1="317.3" x2="991.6" y2="371.9" stroke="#161616" stroke-width="1.5"/>
<line x1="983.9" y1="317.3" x2="999.3" y2="317.3" stroke="#161616" stroke-width="1.5"/>
<line x1="983.9" y1="371.9" x2="999.3" y2="371.9" stroke="#161616" stroke-width="1.5"/>
<line x1="1079.8" y1="250.0" x2="1079.8" y2="305.2" stroke="#161616" stroke-width="1.5"/>
<line x1="1072.1" y1="250.0" x2="1087.5" y2="250.0" stroke="#161616" stroke-width="1.5"/>
<line x1="1072.1" y1="305.2" x2="1087.5" y2="305.2" stroke="#161616" stroke-width="1.5"/>
<line x1="1168.0" y1="96.8" x2="1168.0" y2="146.8" stroke="#161616" stroke-width="1.5"/>
<line x1="1160.3" y1="96.8" x2="1175.7" y2="96.8" stroke="#161616" stroke-width="1.5"/>
<line x1="1160.3" y1="146.8" x2="1175.7" y2="146.8" stroke="#161616" stroke-width="1.5"/>
<line x1="1256.2" y1="216.5" x2="1256.2" y2="267.9" stroke="#161616" stroke-width="1.5"/>
<line x1="1248.5" y1="216.5" x2="1263.9" y2="216.5" stroke="#161616" stroke-width="1.5"/>
<line x1="1248.5" y1="267.9" x2="1263.9" y2="267.9" stroke="#161616" stroke-width="1.5"/>
<line x1="1344.4" y1="298.9" x2="1344.4" y2="349.5" stroke="#161616" stroke-width="1.5"/>
<line x1="1336.7" y1="298.9" x2="1352.1" y2="298.9" stroke="#161616" stroke-width="1.5"/>
<line x1="1336.7" y1="349.5" x2="1352.1" y2="349.5" stroke="#161616" stroke-width="1.5"/>
<line x1="1432.6" y1="453.2" x2="1432.6" y2="463.2" stroke="#161616" stroke-width="1.5"/>
<line x1="1424.9" y1="453.2" x2="1440.3" y2="453.2" stroke="#161616" stroke-width="1.5"/>
<line x1="1424.9" y1="463.2" x2="1440.3" y2="463.2" stroke="#161616" stroke-width="1.5"/>
<line x1="991.6" y1="184.5" x2="991.6" y2="257.1" stroke="#161616" stroke-width="1.5"/>
<line x1="983.9" y1="184.5" x2="999.3" y2="184.5" stroke="#161616" stroke-width="1.5"/>
<line x1="983.9" y1="257.1" x2="999.3" y2="257.1" stroke="#161616" stroke-width="1.5"/>
<line x1="1079.8" y1="97.0" x2="1079.8" y2="120.6" stroke="#161616" stroke-width="1.5"/>
<line x1="1072.1" y1="97.0" x2="1087.5" y2="97.0" stroke="#161616" stroke-width="1.5"/>
<line x1="1072.1" y1="120.6" x2="1087.5" y2="120.6" stroke="#161616" stroke-width="1.5"/>
<line x1="1168.0" y1="334.2" x2="1168.0" y2="383.4" stroke="#161616" stroke-width="1.5"/>
<line x1="1160.3" y1="334.2" x2="1175.7" y2="334.2" stroke="#161616" stroke-width="1.5"/>
<line x1="1160.3" y1="383.4" x2="1175.7" y2="383.4" stroke="#161616" stroke-width="1.5"/>
<line x1="1256.2" y1="431.5" x2="1256.2" y2="463.9" stroke="#161616" stroke-width="1.5"/>
<line x1="1248.5" y1="431.5" x2="1263.9" y2="431.5" stroke="#161616" stroke-width="1.5"/>
<line x1="1248.5" y1="463.9" x2="1263.9" y2="463.9" stroke="#161616" stroke-width="1.5"/>
<line x1="1344.4" y1="494.5" x2="1344.4" y2="507.5" stroke="#161616" stroke-width="1.5"/>
<line x1="1336.7" y1="494.5" x2="1352.1" y2="494.5" stroke="#161616" stroke-width="1.5"/>
<line x1="1336.7" y1="507.5" x2="1352.1" y2="507.5" stroke="#161616" stroke-width="1.5"/>
<line x1="991.6" y1="111.1" x2="991.6" y2="177.1" stroke="#161616" stroke-width="1.5"/>
<line x1="983.9" y1="111.1" x2="999.3" y2="111.1" stroke="#161616" stroke-width="1.5"/>
<line x1="983.9" y1="177.1" x2="999.3" y2="177.1" stroke="#161616" stroke-width="1.5"/>
<line x1="1079.8" y1="312.6" x2="1079.8" y2="352.6" stroke="#161616" stroke-width="1.5"/>
<line x1="1072.1" y1="312.6" x2="1087.5" y2="312.6" stroke="#161616" stroke-width="1.5"/>
<line x1="1072.1" y1="352.6" x2="1087.5" y2="352.6" stroke="#161616" stroke-width="1.5"/>
<line x1="1168.0" y1="430.5" x2="1168.0" y2="449.1" stroke="#161616" stroke-width="1.5"/>
<line x1="1160.3" y1="430.5" x2="1175.7" y2="430.5" stroke="#161616" stroke-width="1.5"/>
<line x1="1160.3" y1="449.1" x2="1175.7" y2="449.1" stroke="#161616" stroke-width="1.5"/>
<line x1="1256.2" y1="529.8" x2="1256.2" y2="537.8" stroke="#161616" stroke-width="1.5"/>
<line x1="1248.5" y1="529.8" x2="1263.9" y2="529.8" stroke="#161616" stroke-width="1.5"/>
<line x1="1248.5" y1="537.8" x2="1263.9" y2="537.8" stroke="#161616" stroke-width="1.5"/>
<line x1="194.1" y1="751.3" x2="194.1" y2="757.3" stroke="#161616" stroke-width="1.5"/>
<line x1="186.4" y1="751.3" x2="201.8" y2="751.3" stroke="#161616" stroke-width="1.5"/>
<line x1="186.4" y1="757.3" x2="201.8" y2="757.3" stroke="#161616" stroke-width="1.5"/>
<line x1="272.4" y1="667.7" x2="272.4" y2="712.7" stroke="#161616" stroke-width="1.5"/>
<line x1="264.7" y1="667.7" x2="280.1" y2="667.7" stroke="#161616" stroke-width="1.5"/>
<line x1="264.7" y1="712.7" x2="280.1" y2="712.7" stroke="#161616" stroke-width="1.5"/>
<line x1="350.8" y1="645.4" x2="350.8" y2="675.8" stroke="#161616" stroke-width="1.5"/>
<line x1="343.1" y1="645.4" x2="358.5" y2="645.4" stroke="#161616" stroke-width="1.5"/>
<line x1="343.1" y1="675.8" x2="358.5" y2="675.8" stroke="#161616" stroke-width="1.5"/>
<line x1="429.1" y1="587.3" x2="429.1" y2="674.9" stroke="#161616" stroke-width="1.5"/>
<line x1="421.4" y1="587.3" x2="436.8" y2="587.3" stroke="#161616" stroke-width="1.5"/>
<line x1="421.4" y1="674.9" x2="436.8" y2="674.9" stroke="#161616" stroke-width="1.5"/>
<line x1="507.4" y1="735.1" x2="507.4" y2="751.1" stroke="#161616" stroke-width="1.5"/>
<line x1="499.7" y1="735.1" x2="515.1" y2="735.1" stroke="#161616" stroke-width="1.5"/>
<line x1="499.7" y1="751.1" x2="515.1" y2="751.1" stroke="#161616" stroke-width="1.5"/>
<line x1="585.8" y1="747.5" x2="585.8" y2="808.7" stroke="#161616" stroke-width="1.5"/>
<line x1="578.0" y1="747.5" x2="593.5" y2="747.5" stroke="#161616" stroke-width="1.5"/>
<line x1="578.0" y1="808.7" x2="593.5" y2="808.7" stroke="#161616" stroke-width="1.5"/>
<line x1="664.1" y1="798.5" x2="664.1" y2="842.9" stroke="#161616" stroke-width="1.5"/>
<line x1="656.4" y1="798.5" x2="671.8" y2="798.5" stroke="#161616" stroke-width="1.5"/>
<line x1="656.4" y1="842.9" x2="671.8" y2="842.9" stroke="#161616" stroke-width="1.5"/>
<line x1="742.4" y1="886.1" x2="742.4" y2="899.7" stroke="#161616" stroke-width="1.5"/>
<line x1="734.7" y1="886.1" x2="750.1" y2="886.1" stroke="#161616" stroke-width="1.5"/>
<line x1="734.7" y1="899.7" x2="750.1" y2="899.7" stroke="#161616" stroke-width="1.5"/>
<line x1="194.1" y1="751.3" x2="194.1" y2="757.3" stroke="#161616" stroke-width="1.5"/>
<line x1="186.4" y1="751.3" x2="201.8" y2="751.3" stroke="#161616" stroke-width="1.5"/>
<line x1="186.4" y1="757.3" x2="201.8" y2="757.3" stroke="#161616" stroke-width="1.5"/>
<line x1="272.4" y1="692.7" x2="272.4" y2="731.3" stroke="#161616" stroke-width="1.5"/>
<line x1="264.7" y1="692.7" x2="280.1" y2="692.7" stroke="#161616" stroke-width="1.5"/>
<line x1="264.7" y1="731.3" x2="280.1" y2="731.3" stroke="#161616" stroke-width="1.5"/>
<line x1="350.8" y1="732.5" x2="350.8" y2="791.5" stroke="#161616" stroke-width="1.5"/>
<line x1="343.1" y1="732.5" x2="358.5" y2="732.5" stroke="#161616" stroke-width="1.5"/>
<line x1="343.1" y1="791.5" x2="358.5" y2="791.5" stroke="#161616" stroke-width="1.5"/>
<line x1="429.1" y1="866.5" x2="429.1" y2="884.5" stroke="#161616" stroke-width="1.5"/>
<line x1="421.4" y1="866.5" x2="436.8" y2="866.5" stroke="#161616" stroke-width="1.5"/>
<line x1="421.4" y1="884.5" x2="436.8" y2="884.5" stroke="#161616" stroke-width="1.5"/>
<line x1="507.4" y1="881.3" x2="507.4" y2="925.1" stroke="#161616" stroke-width="1.5"/>
<line x1="499.7" y1="881.3" x2="515.1" y2="881.3" stroke="#161616" stroke-width="1.5"/>
<line x1="499.7" y1="925.1" x2="515.1" y2="925.1" stroke="#161616" stroke-width="1.5"/>
<line x1="585.8" y1="908.3" x2="585.8" y2="944.3" stroke="#161616" stroke-width="1.5"/>
<line x1="578.0" y1="908.3" x2="593.5" y2="908.3" stroke="#161616" stroke-width="1.5"/>
<line x1="578.0" y1="944.3" x2="593.5" y2="944.3" stroke="#161616" stroke-width="1.5"/>
<line x1="664.1" y1="959.1" x2="664.1" y2="976.1" stroke="#161616" stroke-width="1.5"/>
<line x1="656.4" y1="959.1" x2="671.8" y2="959.1" stroke="#161616" stroke-width="1.5"/>
<line x1="656.4" y1="976.1" x2="671.8" y2="976.1" stroke="#161616" stroke-width="1.5"/>
<line x1="272.4" y1="608.6" x2="272.4" y2="681.8" stroke="#161616" stroke-width="1.5"/>
<line x1="264.7" y1="608.6" x2="280.1" y2="608.6" stroke="#161616" stroke-width="1.5"/>
<line x1="264.7" y1="681.8" x2="280.1" y2="681.8" stroke="#161616" stroke-width="1.5"/>
<line x1="350.8" y1="772.0" x2="350.8" y2="814.0" stroke="#161616" stroke-width="1.5"/>
<line x1="343.1" y1="772.0" x2="358.5" y2="772.0" stroke="#161616" stroke-width="1.5"/>
<line x1="343.1" y1="814.0" x2="358.5" y2="814.0" stroke="#161616" stroke-width="1.5"/>
<line x1="429.1" y1="854.8" x2="429.1" y2="883.8" stroke="#161616" stroke-width="1.5"/>
<line x1="421.4" y1="854.8" x2="436.8" y2="854.8" stroke="#161616" stroke-width="1.5"/>
<line x1="421.4" y1="883.8" x2="436.8" y2="883.8" stroke="#161616" stroke-width="1.5"/>
<line x1="507.4" y1="940.0" x2="507.4" y2="952.0" stroke="#161616" stroke-width="1.5"/>
<line x1="499.7" y1="940.0" x2="515.1" y2="940.0" stroke="#161616" stroke-width="1.5"/>
<line x1="499.7" y1="952.0" x2="515.1" y2="952.0" stroke="#161616" stroke-width="1.5"/>
<line x1="585.8" y1="991.4" x2="585.8" y2="1017.4" stroke="#161616" stroke-width="1.5"/>
<line x1="578.0" y1="991.4" x2="593.5" y2="991.4" stroke="#161616" stroke-width="1.5"/>
<line x1="578.0" y1="1017.4" x2="593.5" y2="1017.4" stroke="#161616" stroke-width="1.5"/>
<line x1="272.4" y1="732.5" x2="272.4" y2="751.5" stroke="#161616" stroke-width="1.5"/>
<line x1="264.7" y1="732.5" x2="280.1" y2="732.5" stroke="#161616" stroke-width="1.5"/>
<line x1="264.7" y1="751.5" x2="280.1" y2="751.5" stroke="#161616" stroke-width="1.5"/>
<line x1="350.8" y1="946.7" x2="350.8" y2="968.3" stroke="#161616" stroke-width="1.5"/>
<line x1="343.1" y1="946.7" x2="358.5" y2="946.7" stroke="#161616" stroke-width="1.5"/>
<line x1="343.1" y1="968.3" x2="358.5" y2="968.3" stroke="#161616" stroke-width="1.5"/>
<line x1="429.1" y1="1001.3" x2="429.1" y2="1030.9" stroke="#161616" stroke-width="1.5"/>
<line x1="421.4" y1="1001.3" x2="436.8" y2="1001.3" stroke="#161616" stroke-width="1.5"/>
<line x1="421.4" y1="1030.9" x2="436.8" y2="1030.9" stroke="#161616" stroke-width="1.5"/>
<line x1="507.4" y1="1052.8" x2="507.4" y2="1066.8" stroke="#161616" stroke-width="1.5"/>
<line x1="499.7" y1="1052.8" x2="515.1" y2="1052.8" stroke="#161616" stroke-width="1.5"/>
<line x1="499.7" y1="1066.8" x2="515.1" y2="1066.8" stroke="#161616" stroke-width="1.5"/>
<line x1="903.4" y1="933.2" x2="903.4" y2="951.0" stroke="#161616" stroke-width="1.5"/>
<line x1="895.7" y1="933.2" x2="911.1" y2="933.2" stroke="#161616" stroke-width="1.5"/>
<line x1="895.7" y1="951.0" x2="911.1" y2="951.0" stroke="#161616" stroke-width="1.5"/>
<line x1="991.6" y1="725.7" x2="991.6" y2="766.7" stroke="#161616" stroke-width="1.5"/>
<line x1="983.9" y1="725.7" x2="999.3" y2="725.7" stroke="#161616" stroke-width="1.5"/>
<line x1="983.9" y1="766.7" x2="999.3" y2="766.7" stroke="#161616" stroke-width="1.5"/>
<line x1="1079.8" y1="665.9" x2="1079.8" y2="705.9" stroke="#161616" stroke-width="1.5"/>
<line x1="1072.1" y1="665.9" x2="1087.5" y2="665.9" stroke="#161616" stroke-width="1.5"/>
<line x1="1072.1" y1="705.9" x2="1087.5" y2="705.9" stroke="#161616" stroke-width="1.5"/>
<line x1="1168.0" y1="587.0" x2="1168.0" y2="623.0" stroke="#161616" stroke-width="1.5"/>
<line x1="1160.3" y1="587.0" x2="1175.7" y2="587.0" stroke="#161616" stroke-width="1.5"/>
<line x1="1160.3" y1="623.0" x2="1175.7" y2="623.0" stroke="#161616" stroke-width="1.5"/>
<line x1="1256.2" y1="746.9" x2="1256.2" y2="778.1" stroke="#161616" stroke-width="1.5"/>
<line x1="1248.5" y1="746.9" x2="1263.9" y2="746.9" stroke="#161616" stroke-width="1.5"/>
<line x1="1248.5" y1="778.1" x2="1263.9" y2="778.1" stroke="#161616" stroke-width="1.5"/>
<line x1="1344.4" y1="906.6" x2="1344.4" y2="914.6" stroke="#161616" stroke-width="1.5"/>
<line x1="1336.7" y1="906.6" x2="1352.1" y2="906.6" stroke="#161616" stroke-width="1.5"/>
<line x1="1336.7" y1="914.6" x2="1352.1" y2="914.6" stroke="#161616" stroke-width="1.5"/>
<line x1="1432.6" y1="990.0" x2="1432.6" y2="1006.0" stroke="#161616" stroke-width="1.5"/>
<line x1="1424.9" y1="990.0" x2="1440.3" y2="990.0" stroke="#161616" stroke-width="1.5"/>
<line x1="1424.9" y1="1006.0" x2="1440.3" y2="1006.0" stroke="#161616" stroke-width="1.5"/>
<line x1="1520.8" y1="1029.4" x2="1520.8" y2="1033.4" stroke="#161616" stroke-width="1.5"/>
<line x1="1513.1" y1="1029.4" x2="1528.5" y2="1029.4" stroke="#161616" stroke-width="1.5"/>
<line x1="1513.1" y1="1033.4" x2="1528.5" y2="1033.4" stroke="#161616" stroke-width="1.5"/>
<line x1="903.4" y1="919.1" x2="903.4" y2="936.5" stroke="#161616" stroke-width="1.5"/>
<line x1="895.7" y1="919.1" x2="911.1" y2="919.1" stroke="#161616" stroke-width="1.5"/>
<line x1="895.7" y1="936.5" x2="911.1" y2="936.5" stroke="#161616" stroke-width="1.5"/>
<line x1="991.6" y1="764.8" x2="991.6" y2="820.2" stroke="#161616" stroke-width="1.5"/>
<line x1="983.9" y1="764.8" x2="999.3" y2="764.8" stroke="#161616" stroke-width="1.5"/>
<line x1="983.9" y1="820.2" x2="999.3" y2="820.2" stroke="#161616" stroke-width="1.5"/>
<line x1="1079.8" y1="744.9" x2="1079.8" y2="778.3" stroke="#161616" stroke-width="1.5"/>
<line x1="1072.1" y1="744.9" x2="1087.5" y2="744.9" stroke="#161616" stroke-width="1.5"/>
<line x1="1072.1" y1="778.3" x2="1087.5" y2="778.3" stroke="#161616" stroke-width="1.5"/>
<line x1="1168.0" y1="689.8" x2="1168.0" y2="711.8" stroke="#161616" stroke-width="1.5"/>
<line x1="1160.3" y1="689.8" x2="1175.7" y2="689.8" stroke="#161616" stroke-width="1.5"/>
<line x1="1160.3" y1="711.8" x2="1175.7" y2="711.8" stroke="#161616" stroke-width="1.5"/>
<line x1="1256.2" y1="913.5" x2="1256.2" y2="917.5" stroke="#161616" stroke-width="1.5"/>
<line x1="1248.5" y1="913.5" x2="1263.9" y2="913.5" stroke="#161616" stroke-width="1.5"/>
<line x1="1248.5" y1="917.5" x2="1263.9" y2="917.5" stroke="#161616" stroke-width="1.5"/>
<line x1="1344.4" y1="993.5" x2="1344.4" y2="1001.5" stroke="#161616" stroke-width="1.5"/>
<line x1="1336.7" y1="993.5" x2="1352.1" y2="993.5" stroke="#161616" stroke-width="1.5"/>
<line x1="1336.7" y1="1001.5" x2="1352.1" y2="1001.5" stroke="#161616" stroke-width="1.5"/>
<line x1="1432.6" y1="1048.6" x2="1432.6" y2="1052.6" stroke="#161616" stroke-width="1.5"/>
<line x1="1424.9" y1="1048.6" x2="1440.3" y2="1048.6" stroke="#161616" stroke-width="1.5"/>
<line x1="1424.9" y1="1052.6" x2="1440.3" y2="1052.6" stroke="#161616" stroke-width="1.5"/>
<line x1="991.6" y1="775.4" x2="991.6" y2="785.4" stroke="#161616" stroke-width="1.5"/>
<line x1="983.9" y1="775.4" x2="999.3" y2="775.4" stroke="#161616" stroke-width="1.5"/>
<line x1="983.9" y1="785.4" x2="999.3" y2="785.4" stroke="#161616" stroke-width="1.5"/>
<line x1="1079.8" y1="626.8" x2="1079.8" y2="695.2" stroke="#161616" stroke-width="1.5"/>
<line x1="1072.1" y1="626.8" x2="1087.5" y2="626.8" stroke="#161616" stroke-width="1.5"/>
<line x1="1072.1" y1="695.2" x2="1087.5" y2="695.2" stroke="#161616" stroke-width="1.5"/>
<line x1="1168.0" y1="873.5" x2="1168.0" y2="895.1" stroke="#161616" stroke-width="1.5"/>
<line x1="1160.3" y1="873.5" x2="1175.7" y2="873.5" stroke="#161616" stroke-width="1.5"/>
<line x1="1160.3" y1="895.1" x2="1175.7" y2="895.1" stroke="#161616" stroke-width="1.5"/>
<line x1="1256.2" y1="962.9" x2="1256.2" y2="968.9" stroke="#161616" stroke-width="1.5"/>
<line x1="1248.5" y1="962.9" x2="1263.9" y2="962.9" stroke="#161616" stroke-width="1.5"/>
<line x1="1248.5" y1="968.9" x2="1263.9" y2="968.9" stroke="#161616" stroke-width="1.5"/>
<line x1="1344.4" y1="1053.8" x2="1344.4" y2="1057.8" stroke="#161616" stroke-width="1.5"/>
<line x1="1336.7" y1="1053.8" x2="1352.1" y2="1053.8" stroke="#161616" stroke-width="1.5"/>
<line x1="1336.7" y1="1057.8" x2="1352.1" y2="1057.8" stroke="#161616" stroke-width="1.5"/>
<line x1="991.6" y1="757.5" x2="991.6" y2="773.5" stroke="#161616" stroke-width="1.5"/>
<line x1="983.9" y1="757.5" x2="999.3" y2="757.5" stroke="#161616" stroke-width="1.5"/>
<line x1="983.9" y1="773.5" x2="999.3" y2="773.5" stroke="#161616" stroke-width="1.5"/>
<line x1="1079.8" y1="836.4" x2="1079.8" y2="869.2" stroke="#161616" stroke-width="1.5"/>
<line x1="1072.1" y1="836.4" x2="1087.5" y2="836.4" stroke="#161616" stroke-width="1.5"/>
<line x1="1072.1" y1="869.2" x2="1087.5" y2="869.2" stroke="#161616" stroke-width="1.5"/>
<line x1="1168.0" y1="973.1" x2="1168.0" y2="977.1" stroke="#161616" stroke-width="1.5"/>
<line x1="1160.3" y1="973.1" x2="1175.7" y2="973.1" stroke="#161616" stroke-width="1.5"/>
<line x1="1160.3" y1="977.1" x2="1175.7" y2="977.1" stroke="#161616" stroke-width="1.5"/>
<line x1="1256.2" y1="1062.0" x2="1256.2" y2="1070.0" stroke="#161616" stroke-width="1.5"/>
<line x1="1248.5" y1="1062.0" x2="1263.9" y2="1062.0" stroke="#161616" stroke-width="1.5"/>
<line x1="1248.5" y1="1070.0" x2="1263.9" y2="1070.0" stroke="#161616" stroke-width="1.5"/>
<line x1="194.1" y1="1563.5" x2="194.1" y2="1581.5" stroke="#161616" stroke-width="1.5"/>
<line x1="186.4" y1="1563.5" x2="201.8" y2="1563.5" stroke="#161616" stroke-width="1.5"/>
<line x1="186.4" y1="1581.5" x2="201.8" y2="1581.5" stroke="#161616" stroke-width="1.5"/>
<line x1="272.4" y1="1341.0" x2="272.4" y2="1388.6" stroke="#161616" stroke-width="1.5"/>
<line x1="264.7" y1="1341.0" x2="280.1" y2="1341.0" stroke="#161616" stroke-width="1.5"/>
<line x1="264.7" y1="1388.6" x2="280.1" y2="1388.6" stroke="#161616" stroke-width="1.5"/>
<line x1="350.8" y1="1160.4" x2="350.8" y2="1219.0" stroke="#161616" stroke-width="1.5"/>
<line x1="343.1" y1="1160.4" x2="358.5" y2="1160.4" stroke="#161616" stroke-width="1.5"/>
<line x1="343.1" y1="1219.0" x2="358.5" y2="1219.0" stroke="#161616" stroke-width="1.5"/>
<line x1="429.1" y1="1207.2" x2="429.1" y2="1286.2" stroke="#161616" stroke-width="1.5"/>
<line x1="421.4" y1="1207.2" x2="436.8" y2="1207.2" stroke="#161616" stroke-width="1.5"/>
<line x1="421.4" y1="1286.2" x2="436.8" y2="1286.2" stroke="#161616" stroke-width="1.5"/>
<line x1="507.4" y1="1256.0" x2="507.4" y2="1314.0" stroke="#161616" stroke-width="1.5"/>
<line x1="499.7" y1="1256.0" x2="515.1" y2="1256.0" stroke="#161616" stroke-width="1.5"/>
<line x1="499.7" y1="1314.0" x2="515.1" y2="1314.0" stroke="#161616" stroke-width="1.5"/>
<line x1="585.8" y1="1388.5" x2="585.8" y2="1432.9" stroke="#161616" stroke-width="1.5"/>
<line x1="578.0" y1="1388.5" x2="593.5" y2="1388.5" stroke="#161616" stroke-width="1.5"/>
<line x1="578.0" y1="1432.9" x2="593.5" y2="1432.9" stroke="#161616" stroke-width="1.5"/>
<line x1="664.1" y1="1449.5" x2="664.1" y2="1481.1" stroke="#161616" stroke-width="1.5"/>
<line x1="656.4" y1="1449.5" x2="671.8" y2="1449.5" stroke="#161616" stroke-width="1.5"/>
<line x1="656.4" y1="1481.1" x2="671.8" y2="1481.1" stroke="#161616" stroke-width="1.5"/>
<line x1="742.4" y1="1525.7" x2="742.4" y2="1554.7" stroke="#161616" stroke-width="1.5"/>
<line x1="734.7" y1="1525.7" x2="750.1" y2="1525.7" stroke="#161616" stroke-width="1.5"/>
<line x1="734.7" y1="1554.7" x2="750.1" y2="1554.7" stroke="#161616" stroke-width="1.5"/>
<line x1="194.1" y1="1549.1" x2="194.1" y2="1578.3" stroke="#161616" stroke-width="1.5"/>
<line x1="186.4" y1="1549.1" x2="201.8" y2="1549.1" stroke="#161616" stroke-width="1.5"/>
<line x1="186.4" y1="1578.3" x2="201.8" y2="1578.3" stroke="#161616" stroke-width="1.5"/>
<line x1="272.4" y1="1115.3" x2="272.4" y2="1195.3" stroke="#161616" stroke-width="1.5"/>
<line x1="264.7" y1="1115.3" x2="280.1" y2="1115.3" stroke="#161616" stroke-width="1.5"/>
<line x1="264.7" y1="1195.3" x2="280.1" y2="1195.3" stroke="#161616" stroke-width="1.5"/>
<line x1="350.8" y1="1160.4" x2="350.8" y2="1219.0" stroke="#161616" stroke-width="1.5"/>
<line x1="343.1" y1="1160.4" x2="358.5" y2="1160.4" stroke="#161616" stroke-width="1.5"/>
<line x1="343.1" y1="1219.0" x2="358.5" y2="1219.0" stroke="#161616" stroke-width="1.5"/>
<line x1="429.1" y1="1334.4" x2="429.1" y2="1392.0" stroke="#161616" stroke-width="1.5"/>
<line x1="421.4" y1="1334.4" x2="436.8" y2="1334.4" stroke="#161616" stroke-width="1.5"/>
<line x1="421.4" y1="1392.0" x2="436.8" y2="1392.0" stroke="#161616" stroke-width="1.5"/>
<line x1="507.4" y1="1425.9" x2="507.4" y2="1467.9" stroke="#161616" stroke-width="1.5"/>
<line x1="499.7" y1="1425.9" x2="515.1" y2="1425.9" stroke="#161616" stroke-width="1.5"/>
<line x1="499.7" y1="1467.9" x2="515.1" y2="1467.9" stroke="#161616" stroke-width="1.5"/>
<line x1="585.8" y1="1524.3" x2="585.8" y2="1551.7" stroke="#161616" stroke-width="1.5"/>
<line x1="578.0" y1="1524.3" x2="593.5" y2="1524.3" stroke="#161616" stroke-width="1.5"/>
<line x1="578.0" y1="1551.7" x2="593.5" y2="1551.7" stroke="#161616" stroke-width="1.5"/>
<line x1="664.1" y1="1564.9" x2="664.1" y2="1576.9" stroke="#161616" stroke-width="1.5"/>
<line x1="656.4" y1="1564.9" x2="671.8" y2="1564.9" stroke="#161616" stroke-width="1.5"/>
<line x1="656.4" y1="1576.9" x2="671.8" y2="1576.9" stroke="#161616" stroke-width="1.5"/>
<line x1="272.4" y1="1394.0" x2="272.4" y2="1408.0" stroke="#161616" stroke-width="1.5"/>
<line x1="264.7" y1="1394.0" x2="280.1" y2="1394.0" stroke="#161616" stroke-width="1.5"/>
<line x1="264.7" y1="1408.0" x2="280.1" y2="1408.0" stroke="#161616" stroke-width="1.5"/>
<line x1="350.8" y1="1246.0" x2="350.8" y2="1256.0" stroke="#161616" stroke-width="1.5"/>
<line x1="343.1" y1="1246.0" x2="358.5" y2="1246.0" stroke="#161616" stroke-width="1.5"/>
<line x1="343.1" y1="1256.0" x2="358.5" y2="1256.0" stroke="#161616" stroke-width="1.5"/>
<line x1="429.1" y1="1380.0" x2="429.1" y2="1424.0" stroke="#161616" stroke-width="1.5"/>
<line x1="421.4" y1="1380.0" x2="436.8" y2="1380.0" stroke="#161616" stroke-width="1.5"/>
<line x1="421.4" y1="1424.0" x2="436.8" y2="1424.0" stroke="#161616" stroke-width="1.5"/>
<line x1="507.4" y1="1498.8" x2="507.4" y2="1504.8" stroke="#161616" stroke-width="1.5"/>
<line x1="499.7" y1="1498.8" x2="515.1" y2="1498.8" stroke="#161616" stroke-width="1.5"/>
<line x1="499.7" y1="1504.8" x2="515.1" y2="1504.8" stroke="#161616" stroke-width="1.5"/>
<line x1="585.8" y1="1570.7" x2="585.8" y2="1576.7" stroke="#161616" stroke-width="1.5"/>
<line x1="578.0" y1="1570.7" x2="593.5" y2="1570.7" stroke="#161616" stroke-width="1.5"/>
<line x1="578.0" y1="1576.7" x2="593.5" y2="1576.7" stroke="#161616" stroke-width="1.5"/>
<line x1="272.4" y1="1457.0" x2="272.4" y2="1484.4" stroke="#161616" stroke-width="1.5"/>
<line x1="264.7" y1="1457.0" x2="280.1" y2="1457.0" stroke="#161616" stroke-width="1.5"/>
<line x1="264.7" y1="1484.4" x2="280.1" y2="1484.4" stroke="#161616" stroke-width="1.5"/>
<line x1="350.8" y1="1308.5" x2="350.8" y2="1365.5" stroke="#161616" stroke-width="1.5"/>
<line x1="343.1" y1="1308.5" x2="358.5" y2="1308.5" stroke="#161616" stroke-width="1.5"/>
<line x1="343.1" y1="1365.5" x2="358.5" y2="1365.5" stroke="#161616" stroke-width="1.5"/>
<line x1="429.1" y1="1459.9" x2="429.1" y2="1505.1" stroke="#161616" stroke-width="1.5"/>
<line x1="421.4" y1="1459.9" x2="436.8" y2="1459.9" stroke="#161616" stroke-width="1.5"/>
<line x1="421.4" y1="1505.1" x2="436.8" y2="1505.1" stroke="#161616" stroke-width="1.5"/>
<line x1="507.4" y1="1588.8" x2="507.4" y2="1594.8" stroke="#161616" stroke-width="1.5"/>
<line x1="499.7" y1="1588.8" x2="515.1" y2="1588.8" stroke="#161616" stroke-width="1.5"/>
<line x1="499.7" y1="1594.8" x2="515.1" y2="1594.8" stroke="#161616" stroke-width="1.5"/>
<circle cx="193.7" cy="349.8" r="5.9" fill="#000" stroke="#000" stroke-width="1"/>
<circle cx="272.0" cy="316.5" r="5.9" fill="#000" stroke="#000" stroke-width="1"/>
<circle cx="350.4" cy="251.3" r="5.9" fill="#000" stroke="#000" stroke-width="1"/>
<circle cx="428.7" cy="173.8" r="5.9" fill="#000" stroke="#000" stroke-width="1"/>
<circle cx="507.0" cy="112.0" r="5.9" fill="#000" stroke="#000" stroke-width="1"/>
<circle cx="585.3" cy="170.2" r="5.9" fill="#000" stroke="#000" stroke-width="1"/>
<circle cx="663.7" cy="217.0" r="5.9" fill="#000" stroke="#000" stroke-width="1"/>
<circle cx="742.0" cy="355.9" r="5.9" fill="#000" stroke="#000" stroke-width="1"/>
<circle cx="193.7" cy="324.9" r="5.7" fill="#fff" stroke="#111" stroke-width="1.5"/>
<circle cx="272.0" cy="290.6" r="5.7" fill="#fff" stroke="#111" stroke-width="1.5"/>
<circle cx="350.4" cy="237.6" r="5.7" fill="#fff" stroke="#111" stroke-width="1.5"/>
<circle cx="428.7" cy="147.7" r="5.7" fill="#fff" stroke="#111" stroke-width="1.5"/>
<circle cx="507.0" cy="73.3" r="5.7" fill="#fff" stroke="#111" stroke-width="1.5"/>
<circle cx="585.3" cy="128.4" r="5.7" fill="#fff" stroke="#111" stroke-width="1.5"/>
<circle cx="663.7" cy="294.4" r="5.7" fill="#fff" stroke="#111" stroke-width="1.5"/>
<path d="M187.4 346.1L200.0 346.1L193.7 356.8Z" fill="#000" stroke="#000" stroke-width="0.8"/>
<path d="M265.7 252.2L278.3 252.2L272.0 262.9Z" fill="#000" stroke="#000" stroke-width="0.8"/>
<path d="M344.1 206.0L356.7 206.0L350.4 216.7Z" fill="#000" stroke="#000" stroke-width="0.8"/>
<path d="M422.4 270.9L435.0 270.9L428.7 281.6Z" fill="#000" stroke="#000" stroke-width="0.8"/>
<path d="M500.7 410.8L513.3 410.8L507.0 421.5Z" fill="#000" stroke="#000" stroke-width="0.8"/>
<path d="M579.0 489.6L591.6 489.6L585.3 500.3Z" fill="#000" stroke="#000" stroke-width="0.8"/>
<path d="M188.2 328.9L199.2 328.9L193.7 319.3Z" fill="#fff" stroke="#111" stroke-width="1.4"/>
<path d="M266.5 294.6L277.5 294.6L272.0 285.0Z" fill="#fff" stroke="#111" stroke-width="1.4"/>
<path d="M344.9 394.0L355.9 394.0L350.4 384.4Z" fill="#fff" stroke="#111" stroke-width="1.4"/>
<path d="M423.2 425.9L434.2 425.9L428.7 416.3Z" fill="#fff" stroke="#111" stroke-width="1.4"/>
<path d="M501.5 540.4L512.5 540.4L507.0 530.8Z" fill="#fff" stroke="#111" stroke-width="1.4"/>
<circle cx="903.4" cy="362.1" r="5.9" fill="#000" stroke="#000" stroke-width="1"/>
<circle cx="991.6" cy="373.0" r="5.9" fill="#000" stroke="#000" stroke-width="1"/>
<circle cx="1079.8" cy="318.4" r="5.9" fill="#000" stroke="#000" stroke-width="1"/>
<circle cx="1168.0" cy="218.7" r="5.9" fill="#000" stroke="#000" stroke-width="1"/>
<circle cx="1256.2" cy="80.4" r="5.9" fill="#000" stroke="#000" stroke-width="1"/>
<circle cx="1344.4" cy="179.7" r="5.9" fill="#000" stroke="#000" stroke-width="1"/>
<circle cx="1432.6" cy="276.9" r="5.9" fill="#000" stroke="#000" stroke-width="1"/>
<circle cx="1520.8" cy="497.8" r="5.9" fill="#000" stroke="#000" stroke-width="1"/>
<circle cx="903.4" cy="342.5" r="5.7" fill="#fff" stroke="#111" stroke-width="1.5"/>
<circle cx="991.6" cy="344.6" r="5.7" fill="#fff" stroke="#111" stroke-width="1.5"/>
<circle cx="1079.8" cy="277.6" r="5.7" fill="#fff" stroke="#111" stroke-width="1.5"/>
<circle cx="1168.0" cy="121.8" r="5.7" fill="#fff" stroke="#111" stroke-width="1.5"/>
<circle cx="1256.2" cy="242.2" r="5.7" fill="#fff" stroke="#111" stroke-width="1.5"/>
<circle cx="1344.4" cy="324.2" r="5.7" fill="#fff" stroke="#111" stroke-width="1.5"/>
<circle cx="1432.6" cy="458.2" r="5.7" fill="#fff" stroke="#111" stroke-width="1.5"/>
<path d="M897.1 358.4L909.7 358.4L903.4 369.1Z" fill="#000" stroke="#000" stroke-width="0.8"/>
<path d="M985.3 217.1L997.9 217.1L991.6 227.8Z" fill="#000" stroke="#000" stroke-width="0.8"/>
<path d="M1073.5 105.1L1086.1 105.1L1079.8 115.8Z" fill="#000" stroke="#000" stroke-width="0.8"/>
<path d="M1161.7 355.1L1174.3 355.1L1168.0 365.8Z" fill="#000" stroke="#000" stroke-width="0.8"/>
<path d="M1249.9 444.0L1262.5 444.0L1256.2 454.7Z" fill="#000" stroke="#000" stroke-width="0.8"/>
<path d="M1338.1 497.3L1350.7 497.3L1344.4 508.0Z" fill="#000" stroke="#000" stroke-width="0.8"/>
<path d="M897.9 346.5L908.9 346.5L903.4 336.9Z" fill="#fff" stroke="#111" stroke-width="1.4"/>
<path d="M986.1 148.1L997.1 148.1L991.6 138.5Z" fill="#fff" stroke="#111" stroke-width="1.4"/>
<path d="M1074.3 336.6L1085.3 336.6L1079.8 327.0Z" fill="#fff" stroke="#111" stroke-width="1.4"/>
<path d="M1162.5 443.8L1173.5 443.8L1168.0 434.2Z" fill="#fff" stroke="#111" stroke-width="1.4"/>
<path d="M1250.7 537.8L1261.7 537.8L1256.2 528.2Z" fill="#fff" stroke="#111" stroke-width="1.4"/>
<circle cx="194.1" cy="754.3" r="5.9" fill="#000" stroke="#000" stroke-width="1"/>
<circle cx="272.4" cy="690.2" r="5.9" fill="#000" stroke="#000" stroke-width="1"/>
<circle cx="350.8" cy="660.6" r="5.9" fill="#000" stroke="#000" stroke-width="1"/>
<circle cx="429.1" cy="631.1" r="5.9" fill="#000" stroke="#000" stroke-width="1"/>
<circle cx="507.4" cy="743.1" r="5.9" fill="#000" stroke="#000" stroke-width="1"/>
<circle cx="585.8" cy="778.1" r="5.9" fill="#000" stroke="#000" stroke-width="1"/>
<circle cx="664.1" cy="820.7" r="5.9" fill="#000" stroke="#000" stroke-width="1"/>
<circle cx="742.4" cy="892.9" r="5.9" fill="#000" stroke="#000" stroke-width="1"/>
<circle cx="272.4" cy="712.0" r="5.7" fill="#fff" stroke="#111" stroke-width="1.5"/>
<circle cx="350.8" cy="762.0" r="5.7" fill="#fff" stroke="#111" stroke-width="1.5"/>
<circle cx="429.1" cy="875.5" r="5.7" fill="#fff" stroke="#111" stroke-width="1.5"/>
<circle cx="507.4" cy="903.2" r="5.7" fill="#fff" stroke="#111" stroke-width="1.5"/>
<circle cx="585.8" cy="926.3" r="5.7" fill="#fff" stroke="#111" stroke-width="1.5"/>
<circle cx="664.1" cy="967.6" r="5.7" fill="#fff" stroke="#111" stroke-width="1.5"/>
<path d="M187.8 750.6L200.4 750.6L194.1 761.3Z" fill="#000" stroke="#000" stroke-width="0.8"/>
<path d="M266.1 641.5L278.7 641.5L272.4 652.2Z" fill="#000" stroke="#000" stroke-width="0.8"/>
<path d="M344.5 789.3L357.1 789.3L350.8 800.0Z" fill="#000" stroke="#000" stroke-width="0.8"/>
<path d="M422.8 865.6L435.4 865.6L429.1 876.3Z" fill="#000" stroke="#000" stroke-width="0.8"/>
<path d="M501.1 942.3L513.7 942.3L507.4 953.0Z" fill="#000" stroke="#000" stroke-width="0.8"/>
<path d="M579.5 1000.7L592.0 1000.7L585.8 1011.4Z" fill="#000" stroke="#000" stroke-width="0.8"/>
<path d="M188.6 758.3L199.6 758.3L194.1 748.7Z" fill="#fff" stroke="#111" stroke-width="1.4"/>
<path d="M266.9 746.0L277.9 746.0L272.4 736.4Z" fill="#fff" stroke="#111" stroke-width="1.4"/>
<path d="M345.3 961.5L356.3 961.5L350.8 951.9Z" fill="#fff" stroke="#111" stroke-width="1.4"/>
<path d="M423.6 1020.1L434.6 1020.1L429.1 1010.5Z" fill="#fff" stroke="#111" stroke-width="1.4"/>
<path d="M501.9 1063.8L512.9 1063.8L507.4 1054.2Z" fill="#fff" stroke="#111" stroke-width="1.4"/>
<circle cx="903.4" cy="942.1" r="5.9" fill="#000" stroke="#000" stroke-width="1"/>
<circle cx="991.6" cy="746.2" r="5.9" fill="#000" stroke="#000" stroke-width="1"/>
<circle cx="1079.8" cy="685.9" r="5.9" fill="#000" stroke="#000" stroke-width="1"/>
<circle cx="1168.0" cy="605.0" r="5.9" fill="#000" stroke="#000" stroke-width="1"/>
<circle cx="1256.2" cy="762.5" r="5.9" fill="#000" stroke="#000" stroke-width="1"/>
<circle cx="1344.4" cy="910.6" r="5.9" fill="#000" stroke="#000" stroke-width="1"/>
<circle cx="1432.6" cy="998.0" r="5.9" fill="#000" stroke="#000" stroke-width="1"/>
<circle cx="1520.8" cy="1031.4" r="5.9" fill="#000" stroke="#000" stroke-width="1"/>
<circle cx="903.4" cy="927.8" r="5.7" fill="#fff" stroke="#111" stroke-width="1.5"/>
<circle cx="991.6" cy="792.5" r="5.7" fill="#fff" stroke="#111" stroke-width="1.5"/>
<circle cx="1079.8" cy="761.6" r="5.7" fill="#fff" stroke="#111" stroke-width="1.5"/>
<circle cx="1168.0" cy="700.8" r="5.7" fill="#fff" stroke="#111" stroke-width="1.5"/>
<circle cx="1256.2" cy="915.5" r="5.7" fill="#fff" stroke="#111" stroke-width="1.5"/>
<circle cx="1344.4" cy="997.5" r="5.7" fill="#fff" stroke="#111" stroke-width="1.5"/>
<circle cx="1432.6" cy="1050.6" r="5.7" fill="#fff" stroke="#111" stroke-width="1.5"/>
<path d="M897.1 938.4L909.7 938.4L903.4 949.1Z" fill="#000" stroke="#000" stroke-width="0.8"/>
<path d="M985.3 776.7L997.9 776.7L991.6 787.4Z" fill="#000" stroke="#000" stroke-width="0.8"/>
<path d="M1073.5 657.3L1086.1 657.3L1079.8 668.0Z" fill="#000" stroke="#000" stroke-width="0.8"/>
<path d="M1161.7 880.6L1174.3 880.6L1168.0 891.3Z" fill="#000" stroke="#000" stroke-width="0.8"/>
<path d="M1249.9 962.2L1262.5 962.2L1256.2 972.9Z" fill="#000" stroke="#000" stroke-width="0.8"/>
<path d="M1338.1 1052.1L1350.7 1052.1L1344.4 1062.8Z" fill="#000" stroke="#000" stroke-width="0.8"/>
<path d="M897.9 931.8L908.9 931.8L903.4 922.2Z" fill="#fff" stroke="#111" stroke-width="1.4"/>
<path d="M986.1 769.5L997.1 769.5L991.6 759.9Z" fill="#fff" stroke="#111" stroke-width="1.4"/>
<path d="M1074.3 856.8L1085.3 856.8L1079.8 847.2Z" fill="#fff" stroke="#111" stroke-width="1.4"/>
<path d="M1162.5 979.1L1173.5 979.1L1168.0 969.5Z" fill="#fff" stroke="#111" stroke-width="1.4"/>
<path d="M1250.7 1070.0L1261.7 1070.0L1256.2 1060.4Z" fill="#fff" stroke="#111" stroke-width="1.4"/>
<circle cx="194.1" cy="1572.5" r="5.9" fill="#000" stroke="#000" stroke-width="1"/>
<circle cx="272.4" cy="1364.8" r="5.9" fill="#000" stroke="#000" stroke-width="1"/>
<circle cx="350.8" cy="1189.7" r="5.9" fill="#000" stroke="#000" stroke-width="1"/>
<circle cx="429.1" cy="1246.7" r="5.9" fill="#000" stroke="#000" stroke-width="1"/>
<circle cx="507.4" cy="1285.0" r="5.9" fill="#000" stroke="#000" stroke-width="1"/>
<circle cx="585.8" cy="1410.7" r="5.9" fill="#000" stroke="#000" stroke-width="1"/>
<circle cx="664.1" cy="1465.3" r="5.9" fill="#000" stroke="#000" stroke-width="1"/>
<circle cx="742.4" cy="1540.2" r="5.9" fill="#000" stroke="#000" stroke-width="1"/>
<circle cx="194.1" cy="1563.7" r="5.7" fill="#fff" stroke="#111" stroke-width="1.5"/>
<circle cx="272.4" cy="1155.3" r="5.7" fill="#fff" stroke="#111" stroke-width="1.5"/>
<circle cx="350.8" cy="1189.7" r="5.7" fill="#fff" stroke="#111" stroke-width="1.5"/>
<circle cx="429.1" cy="1363.2" r="5.7" fill="#fff" stroke="#111" stroke-width="1.5"/>
<circle cx="507.4" cy="1446.9" r="5.7" fill="#fff" stroke="#111" stroke-width="1.5"/>
<circle cx="585.8" cy="1538.0" r="5.7" fill="#fff" stroke="#111" stroke-width="1.5"/>
<circle cx="664.1" cy="1570.9" r="5.7" fill="#fff" stroke="#111" stroke-width="1.5"/>
<path d="M187.8 1568.8L200.4 1568.8L194.1 1579.5Z" fill="#000" stroke="#000" stroke-width="0.8"/>
<path d="M266.1 1397.3L278.7 1397.3L272.4 1408.0Z" fill="#000" stroke="#000" stroke-width="0.8"/>
<path d="M344.5 1247.3L357.1 1247.3L350.8 1258.0Z" fill="#000" stroke="#000" stroke-width="0.8"/>
<path d="M422.8 1398.3L435.4 1398.3L429.1 1409.0Z" fill="#000" stroke="#000" stroke-width="0.8"/>
<path d="M501.1 1498.1L513.7 1498.1L507.4 1508.8Z" fill="#000" stroke="#000" stroke-width="0.8"/>
<path d="M579.5 1570.0L592.0 1570.0L585.8 1580.7Z" fill="#000" stroke="#000" stroke-width="0.8"/>
<path d="M188.6 1567.7L199.6 1567.7L194.1 1558.1Z" fill="#fff" stroke="#111" stroke-width="1.4"/>
<path d="M266.9 1474.7L277.9 1474.7L272.4 1465.1Z" fill="#fff" stroke="#111" stroke-width="1.4"/>
<path d="M345.3 1341.0L356.3 1341.0L350.8 1331.4Z" fill="#fff" stroke="#111" stroke-width="1.4"/>
<path d="M423.6 1486.5L434.6 1486.5L429.1 1476.9Z" fill="#fff" stroke="#111" stroke-width="1.4"/>
<path d="M501.9 1595.8L512.9 1595.8L507.4 1586.2Z" fill="#fff" stroke="#111" stroke-width="1.4"/>
<text x="170.6" y="365.3" font-family="'Liberation Sans', Arial, sans-serif" font-weight="bold" font-size="30.5" fill="#000">*</text>
<text x="250.0" y="332.0" font-family="'Liberation Sans', Arial, sans-serif" font-weight="bold" font-size="30.5" fill="#000">*</text>
<text x="328.7" y="269.8" font-family="'Liberation Sans', Arial, sans-serif" font-weight="bold" font-size="30.5" fill="#000">*</text>
<text x="406.6" y="192.2" font-family="'Liberation Sans', Arial, sans-serif" font-weight="bold" font-size="30.5" fill="#000">*</text>
<text x="485.9" y="124.9" font-family="'Liberation Sans', Arial, sans-serif" font-weight="bold" font-size="30.5" fill="#000">*</text>
<text x="565.2" y="183.7" font-family="'Liberation Sans', Arial, sans-serif" font-weight="bold" font-size="30.5" fill="#000">*</text>
<text x="641.5" y="231.5" font-family="'Liberation Sans', Arial, sans-serif" font-weight="bold" font-size="30.5" fill="#000">*</text>
<text x="172.1" y="339.3" font-family="'Liberation Sans', Arial, sans-serif" font-weight="bold" font-size="30.5" fill="#000">*</text>
<text x="406.6" y="162.6" font-family="'Liberation Sans', Arial, sans-serif" font-weight="bold" font-size="30.5" fill="#000">*</text>
<text x="485.9" y="89.8" font-family="'Liberation Sans', Arial, sans-serif" font-weight="bold" font-size="30.5" fill="#000">*</text>
<text x="565.2" y="144.5" font-family="'Liberation Sans', Arial, sans-serif" font-weight="bold" font-size="30.5" fill="#000">*</text>
<text x="640.0" y="307.7" font-family="'Liberation Sans', Arial, sans-serif" font-weight="bold" font-size="30.5" fill="#000">*</text>
<text x="249.0" y="270.0" font-family="'Liberation Sans', Arial, sans-serif" font-weight="bold" font-size="30.5" fill="#000">*</text>
<text x="329.2" y="222.8" font-family="'Liberation Sans', Arial, sans-serif" font-weight="bold" font-size="30.5" fill="#000">*</text>
<text x="404.5" y="289.1" font-family="'Liberation Sans', Arial, sans-serif" font-weight="bold" font-size="30.5" fill="#000">*</text>
<text x="485.9" y="436.2" font-family="'Liberation Sans', Arial, sans-serif" font-weight="bold" font-size="30.5" fill="#000">*</text>
<text x="563.7" y="526.0" font-family="'Liberation Sans', Arial, sans-serif" font-weight="bold" font-size="30.5" fill="#000">*</text>
<text x="331.2" y="408.1" font-family="'Liberation Sans', Arial, sans-serif" font-weight="bold" font-size="30.5" fill="#000">*</text>
<text x="406.6" y="442.2" font-family="'Liberation Sans', Arial, sans-serif" font-weight="bold" font-size="30.5" fill="#000">*</text>
<text x="484.9" y="562.7" font-family="'Liberation Sans', Arial, sans-serif" font-weight="bold" font-size="30.5" fill="#000">*</text>
<text x="967.6" y="388.0" font-family="'Liberation Sans', Arial, sans-serif" font-weight="bold" font-size="30.5" fill="#000">*</text>
<text x="1055.4" y="332.8" font-family="'Liberation Sans', Arial, sans-serif" font-weight="bold" font-size="30.5" fill="#000">*</text>
<text x="1145.8" y="232.4" font-family="'Liberation Sans', Arial, sans-serif" font-weight="bold" font-size="30.5" fill="#000">*</text>
<text x="1232.9" y="94.3" font-family="'Liberation Sans', Arial, sans-serif" font-weight="bold" font-size="30.5" fill="#000">*</text>
<text x="1321.5" y="189.7" font-family="'Liberation Sans', Arial, sans-serif" font-weight="bold" font-size="30.5" fill="#000">*</text>
<text x="1408.3" y="288.1" font-family="'Liberation Sans', Arial, sans-serif" font-weight="bold" font-size="30.5" fill="#000">*</text>
<text x="1057.9" y="292.6" font-family="'Liberation Sans', Arial, sans-serif" font-weight="bold" font-size="30.5" fill="#000">*</text>
<text x="1144.8" y="138.5" font-family="'Liberation Sans', Arial, sans-serif" font-weight="bold" font-size="30.5" fill="#000">*</text>
<text x="1232.9" y="257.7" font-family="'Liberation Sans', Arial, sans-serif" font-weight="bold" font-size="30.5" fill="#000">*</text>
<text x="1323.0" y="336.8" font-family="'Liberation Sans', Arial, sans-serif" font-weight="bold" font-size="30.5" fill="#000">*</text>
<text x="1408.3" y="469.8" font-family="'Liberation Sans', Arial, sans-serif" font-weight="bold" font-size="30.5" fill="#000">*</text>
<text x="970.1" y="233.9" font-family="'Liberation Sans', Arial, sans-serif" font-weight="bold" font-size="30.5" fill="#000">*</text>
<text x="1058.9" y="123.4" font-family="'Liberation Sans', Arial, sans-serif" font-weight="bold" font-size="30.5" fill="#000">*</text>
<text x="1146.8" y="374.3" font-family="'Liberation Sans', Arial, sans-serif" font-weight="bold" font-size="30.5" fill="#000">*</text>
<text x="1232.9" y="463.8" font-family="'Liberation Sans', Arial, sans-serif" font-weight="bold" font-size="30.5" fill="#000">*</text>
<text x="1321.5" y="514.0" font-family="'Liberation Sans', Arial, sans-serif" font-weight="bold" font-size="30.5" fill="#000">*</text>
<text x="967.6" y="161.1" font-family="'Liberation Sans', Arial, sans-serif" font-weight="bold" font-size="30.5" fill="#000">*</text>
<text x="1143.3" y="457.3" font-family="'Liberation Sans', Arial, sans-serif" font-weight="bold" font-size="30.5" fill="#000">*</text>
<text x="1234.9" y="551.6" font-family="'Liberation Sans', Arial, sans-serif" font-weight="bold" font-size="30.5" fill="#000">*</text>
<text x="251.3" y="706.1" font-family="'Liberation Sans', Arial, sans-serif" font-weight="bold" font-size="30.5" fill="#000">*</text>
<text x="332.7" y="672.3" font-family="'Liberation Sans', Arial, sans-serif" font-weight="bold" font-size="30.5" fill="#000">*</text>
<text x="408.6" y="643.3" font-family="'Liberation Sans', Arial, sans-serif" font-weight="bold" font-size="30.5" fill="#000">*</text>
<text x="488.1" y="755.0" font-family="'Liberation Sans', Arial, sans-serif" font-weight="bold" font-size="30.5" fill="#000">*</text>
<text x="564.5" y="792.3" font-family="'Liberation Sans', Arial, sans-serif" font-weight="bold" font-size="30.5" fill="#000">*</text>
<text x="643.6" y="829.5" font-family="'Liberation Sans', Arial, sans-serif" font-weight="bold" font-size="30.5" fill="#000">*</text>
<text x="488.1" y="918.1" font-family="'Liberation Sans', Arial, sans-serif" font-weight="bold" font-size="30.5" fill="#000">*</text>
<text x="566.5" y="940.8" font-family="'Liberation Sans', Arial, sans-serif" font-weight="bold" font-size="30.5" fill="#000">*</text>
<text x="642.8" y="992.1" font-family="'Liberation Sans', Arial, sans-serif" font-weight="bold" font-size="30.5" fill="#000">*</text>
<text x="251.5" y="660.1" font-family="'Liberation Sans', Arial, sans-serif" font-weight="bold" font-size="30.5" fill="#000">*</text>
<text x="486.8" y="964.4" font-family="'Liberation Sans', Arial, sans-serif" font-weight="bold" font-size="30.5" fill="#000">*</text>
<text x="565.0" y="1031.6" font-family="'Liberation Sans', Arial, sans-serif" font-weight="bold" font-size="30.5" fill="#000">*</text>
<text x="251.5" y="755.6" font-family="'Liberation Sans', Arial, sans-serif" font-weight="bold" font-size="30.5" fill="#000">*</text>
<text x="328.2" y="973.8" font-family="'Liberation Sans', Arial, sans-serif" font-weight="bold" font-size="30.5" fill="#000">*</text>
<text x="412.1" y="1034.2" font-family="'Liberation Sans', Arial, sans-serif" font-weight="bold" font-size="30.5" fill="#000">*</text>
<text x="484.1" y="1079.2" font-family="'Liberation Sans', Arial, sans-serif" font-weight="bold" font-size="30.5" fill="#000">*</text>
<text x="881.1" y="961.5" font-family="'Liberation Sans', Arial, sans-serif" font-weight="bold" font-size="30.5" fill="#000">*</text>
<text x="968.2" y="765.6" font-family="'Liberation Sans', Arial, sans-serif" font-weight="bold" font-size="30.5" fill="#000">*</text>
<text x="1056.7" y="703.2" font-family="'Liberation Sans', Arial, sans-serif" font-weight="bold" font-size="30.5" fill="#000">*</text>
<text x="1146.1" y="618.7" font-family="'Liberation Sans', Arial, sans-serif" font-weight="bold" font-size="30.5" fill="#000">*</text>
<text x="1234.6" y="773.6" font-family="'Liberation Sans', Arial, sans-serif" font-weight="bold" font-size="30.5" fill="#000">*</text>
<text x="1320.0" y="920.2" font-family="'Liberation Sans', Arial, sans-serif" font-weight="bold" font-size="30.5" fill="#000">*</text>
<text x="1407.4" y="1009.6" font-family="'Liberation Sans', Arial, sans-serif" font-weight="bold" font-size="30.5" fill="#000">*</text>
<text x="881.1" y="945.3" font-family="'Liberation Sans', Arial, sans-serif" font-weight="bold" font-size="30.5" fill="#000">*</text>
<text x="971.7" y="805.4" font-family="'Liberation Sans', Arial, sans-serif" font-weight="bold" font-size="30.5" fill="#000">*</text>
<text x="1056.7" y="776.6" font-family="'Liberation Sans', Arial, sans-serif" font-weight="bold" font-size="30.5" fill="#000">*</text>
<text x="1147.5" y="714.3" font-family="'Liberation Sans', Arial, sans-serif" font-weight="bold" font-size="30.5" fill="#000">*</text>
<text x="1233.6" y="928.4" font-family="'Liberation Sans', Arial, sans-serif" font-weight="bold" font-size="30.5" fill="#000">*</text>
<text x="1320.0" y="1008.4" font-family="'Liberation Sans', Arial, sans-serif" font-weight="bold" font-size="30.5" fill="#000">*</text>
<text x="1408.7" y="1065.6" font-family="'Liberation Sans', Arial, sans-serif" font-weight="bold" font-size="30.5" fill="#000">*</text>
<text x="1054.9" y="675.7" font-family="'Liberation Sans', Arial, sans-serif" font-weight="bold" font-size="30.5" fill="#000">*</text>
<text x="1146.7" y="895.4" font-family="'Liberation Sans', Arial, sans-serif" font-weight="bold" font-size="30.5" fill="#000">*</text>
<text x="1234.1" y="975.4" font-family="'Liberation Sans', Arial, sans-serif" font-weight="bold" font-size="30.5" fill="#000">*</text>
<text x="1320.0" y="1072.1" font-family="'Liberation Sans', Arial, sans-serif" font-weight="bold" font-size="30.5" fill="#000">*</text>
<text x="970.3" y="783.0" font-family="'Liberation Sans', Arial, sans-serif" font-weight="bold" font-size="30.5" fill="#000">*</text>
<text x="1057.9" y="867.0" font-family="'Liberation Sans', Arial, sans-serif" font-weight="bold" font-size="30.5" fill="#000">*</text>
<text x="1143.6" y="987.6" font-family="'Liberation Sans', Arial, sans-serif" font-weight="bold" font-size="30.5" fill="#000">*</text>
<text x="1233.6" y="1079.7" font-family="'Liberation Sans', Arial, sans-serif" font-weight="bold" font-size="30.5" fill="#000">*</text>
<text x="248.9" y="1381.6" font-family="'Liberation Sans', Arial, sans-serif" font-weight="bold" font-size="30.5" fill="#000">*</text>
<text x="407.7" y="1258.9" font-family="'Liberation Sans', Arial, sans-serif" font-weight="bold" font-size="30.5" fill="#000">*</text>
<text x="484.5" y="1296.9" font-family="'Liberation Sans', Arial, sans-serif" font-weight="bold" font-size="30.5" fill="#000">*</text>
<text x="563.2" y="1423.2" font-family="'Liberation Sans', Arial, sans-serif" font-weight="bold" font-size="30.5" fill="#000">*</text>
<text x="640.9" y="1477.5" font-family="'Liberation Sans', Arial, sans-serif" font-weight="bold" font-size="30.5" fill="#000">*</text>
<text x="250.6" y="1171.3" font-family="'Liberation Sans', Arial, sans-serif" font-weight="bold" font-size="30.5" fill="#000">*</text>
<text x="329.7" y="1205.7" font-family="'Liberation Sans', Arial, sans-serif" font-weight="bold" font-size="30.5" fill="#000">*</text>
<text x="484.5" y="1459.7" font-family="'Liberation Sans', Arial, sans-serif" font-weight="bold" font-size="30.5" fill="#000">*</text>
<text x="562.6" y="1547.5" font-family="'Liberation Sans', Arial, sans-serif" font-weight="bold" font-size="30.5" fill="#000">*</text>
<text x="640.1" y="1587.8" font-family="'Liberation Sans', Arial, sans-serif" font-weight="bold" font-size="30.5" fill="#000">*</text>
<text x="328.5" y="1265.2" font-family="'Liberation Sans', Arial, sans-serif" font-weight="bold" font-size="30.5" fill="#000">*</text>
<text x="484.5" y="1514.6" font-family="'Liberation Sans', Arial, sans-serif" font-weight="bold" font-size="30.5" fill="#000">*</text>
<text x="563.2" y="1583.2" font-family="'Liberation Sans', Arial, sans-serif" font-weight="bold" font-size="30.5" fill="#000">*</text>
<text x="252.0" y="1486.2" font-family="'Liberation Sans', Arial, sans-serif" font-weight="bold" font-size="30.5" fill="#000">*</text>
<text x="330.3" y="1351.7" font-family="'Liberation Sans', Arial, sans-serif" font-weight="bold" font-size="30.5" fill="#000">*</text>
<text x="408.2" y="1497.5" font-family="'Liberation Sans', Arial, sans-serif" font-weight="bold" font-size="30.5" fill="#000">*</text>
<text x="482.5" y="1602.9" font-family="'Liberation Sans', Arial, sans-serif" font-weight="bold" font-size="30.5" fill="#000">*</text>
</svg>
</body></html>
